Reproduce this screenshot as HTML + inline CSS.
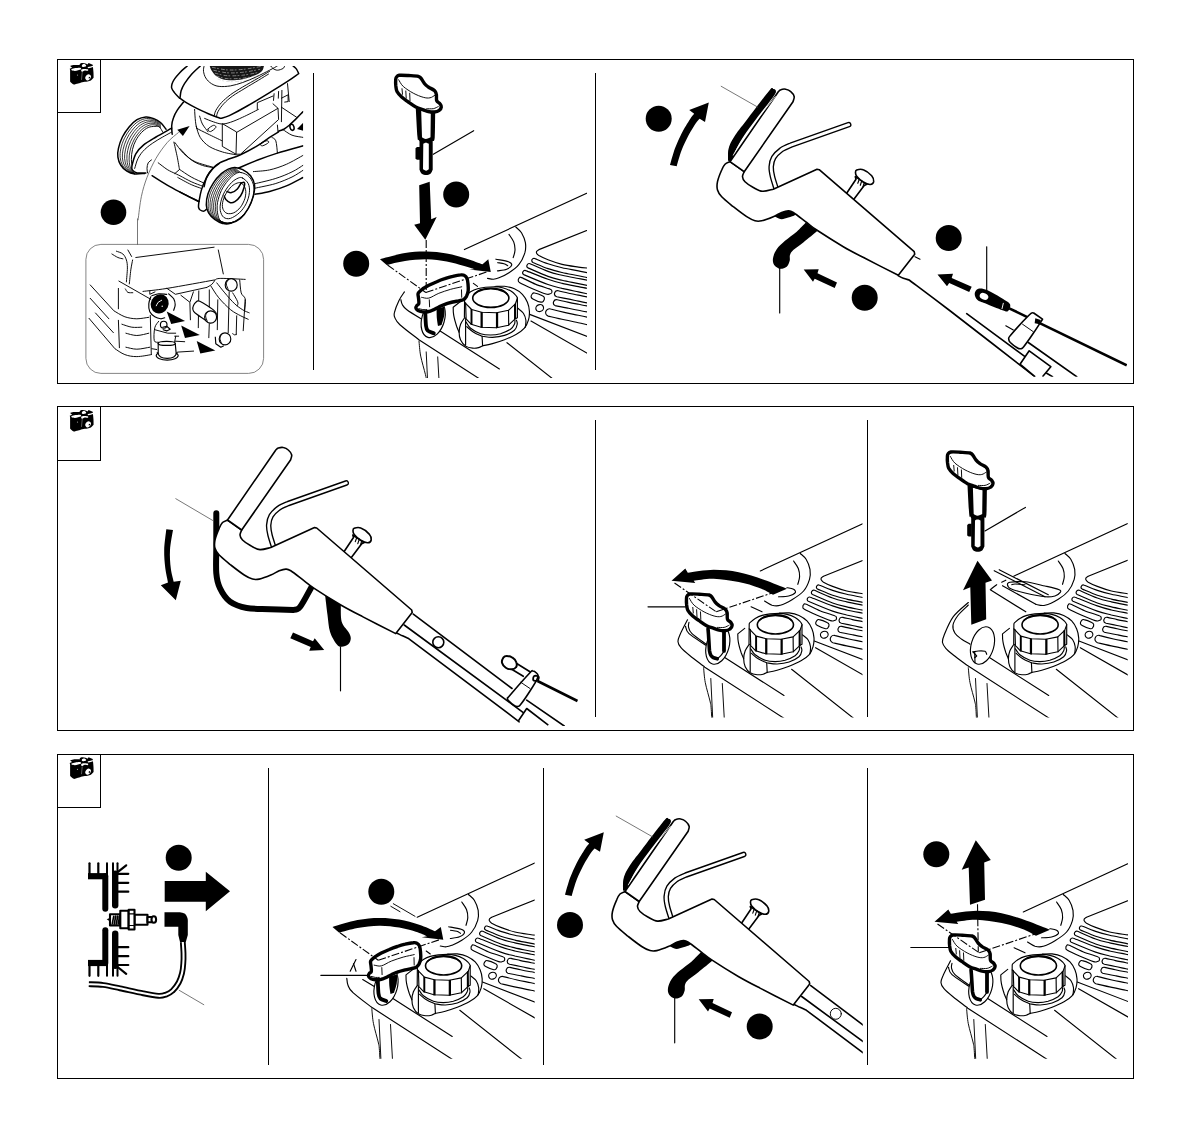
<!DOCTYPE html>
<html lang="en"><head><meta charset="utf-8"><title>Illustrations</title>
<style>
html,body{margin:0;padding:0;background:#fff;}
body{width:1190px;height:1134px;overflow:hidden;font-family:"Liberation Sans",sans-serif;}
svg{display:block;position:absolute;left:0;top:0;}
.l{fill:none;stroke:#000;stroke-width:1.15;stroke-linecap:round;stroke-linejoin:round;}
.m{fill:none;stroke:#000;stroke-width:1.6;stroke-linecap:round;stroke-linejoin:round;}
.t{fill:none;stroke:#000;stroke-width:0.95;stroke-linecap:round;stroke-linejoin:round;}
.h{fill:none;stroke:#000;stroke-width:2.4;stroke-linecap:round;stroke-linejoin:round;}
.k{fill:#000;stroke:none;}
.tr{fill:none;stroke:#000;stroke-width:0.8;}
.mw .l{stroke-width:0.95;}
.mw .m,.mw .wm{stroke-width:1.5;}
.w{fill:#fff;stroke:#000;stroke-width:1.15;stroke-linejoin:round;}
.wm{fill:#fff;stroke:#000;stroke-width:1.6;stroke-linejoin:round;}
.wh{fill:#fff;stroke:#000;stroke-width:3.4;stroke-linejoin:round;}
.g{fill:none;stroke:#555;stroke-width:0.8;stroke-linecap:round;}
.f{fill:none;stroke:#000;stroke-width:1;shape-rendering:crispEdges;}
</style></head><body>
<svg role="img" aria-label="Illustrations" width="1190" height="1134" viewBox="0 0 1190 1134">
<rect x="0" y="0" width="1190" height="1134" fill="#fff"/>
<!-- 00_frames.svg -->
<g class="f">
<rect x="57.5" y="59.5" width="1076" height="324"/>
<rect x="57.5" y="406.5" width="1076" height="324"/>
<rect x="57.5" y="754.5" width="1076" height="324"/>
<path d="M100.5 59.5V112.5H57.5 M100.5 406.5V460.5H57.5 M100.5 754.5V807.5H57.5"/>
<path d="M313.5 73V370 M595.5 73V370 M595.5 420V717 M867.5 420V717 M268.5 768V1065 M543.5 768V1065 M867.5 768V1065"/>
</g>

<!-- 05_camera.svg -->
<path class="k" d="M70.1 70.1L70.1 81.5C70.4 81.9 71.4 83 72.1 83.5C72.8 84.1 73.8 84.4 74.1 84.6C74.8 84.4 76.8 83.9 78.1 83.5C79.5 83.2 80.6 82.5 82.2 82.2C83.7 81.9 86.1 81.8 87.5 81.5C89 81.2 89.9 81.1 90.9 80.5C91.9 79.9 93.1 78.3 93.6 77.8C93.6 76.8 93.6 73.6 93.4 71.4C93.3 69.3 92.8 65.8 92.7 64.7L88.6 63L87.5 64.4C87.2 64.2 86.3 63.6 85.5 63.4C84.7 63.1 83.7 62.9 82.8 62.9C82 62.9 81 63 80.5 63.4C79.9 63.7 79.6 64.8 79.5 65.1C78.5 65.1 75 64.9 73.4 65.1C71.9 65.2 70.6 65.9 70.1 66.1L72.1 67.7L69.7 68.8L70.1 70.1Z"/>
<path class="k" d="M71.7 69.1C72.4 68.7 74 68.3 75.4 68.1C76.8 67.8 79.2 67.5 80.2 67.7C81.1 67.9 81.3 68.8 81 69.3C80.7 69.7 79.2 70 78.1 70.3C77.1 70.5 75.8 70.9 74.8 70.9C73.7 70.9 72.3 70.6 71.7 70.3C71.2 70 71.1 69.5 71.7 69.1Z" style="fill:#fff"/>
<path class="k" d="M82.2 64.7C82.5 64.3 83.5 64 84.2 64.1C84.8 64.1 85.8 64.8 86 65.2C86.3 65.6 86.2 66.1 85.5 66.4C84.9 66.7 82.7 67.1 82.2 66.8C81.6 66.5 81.8 65.2 82.2 64.7Z" style="fill:#fff"/>
<path class="k" d="M88.1 67C88.8 66.6 92.3 65.9 93.1 65.9C93.9 65.9 93.8 66.6 93.1 67C92.3 67.4 89.4 68.2 88.6 68.2C87.7 68.2 87.3 67.4 88.1 67Z" style="fill:#fff"/>
<path class="k" d="M81.3 69.6C81.7 69.1 82.8 69 83.8 68.9C84.9 68.9 87 69 87.7 69.3C88.4 69.6 88.4 70.6 87.9 70.8C87.4 71 85.9 70.3 84.9 70.5C83.8 70.7 82.4 71.9 81.8 71.8C81.2 71.6 81 70.1 81.3 69.6Z" style="fill:#fff"/>
<ellipse class="k" cx="88.1" cy="77.3" rx="2.5" ry="3.2" transform="rotate(35 88.1 77.3)" style="fill:#fff"/>
<ellipse class="k" cx="89.4" cy="77.7" rx="0.7" ry="0.9" transform="rotate(35 89.4 77.7)"/>
<path class="t" d="M82.2 72.5L81.5 79.5" style="stroke:#bbb;stroke-width:0.5"/>
<ellipse class="k" cx="77.5" cy="75.1" rx="0.6" ry="0.7" style="fill:#999"/>
<path class="k" d="M70.1 417.1L70.1 428.5C70.4 428.9 71.4 430 72.1 430.5C72.8 431.1 73.8 431.4 74.1 431.6C74.8 431.4 76.8 430.9 78.1 430.5C79.5 430.2 80.6 429.5 82.2 429.2C83.7 428.9 86.1 428.8 87.5 428.5C89 428.2 89.9 428.1 90.9 427.5C91.9 426.9 93.1 425.3 93.6 424.8C93.6 423.8 93.6 420.6 93.4 418.4C93.3 416.3 92.8 412.8 92.7 411.7L88.6 410L87.5 411.4C87.2 411.2 86.3 410.6 85.5 410.4C84.7 410.1 83.7 409.9 82.8 409.9C82 409.9 81 410 80.5 410.4C79.9 410.7 79.6 411.8 79.5 412.1C78.5 412.1 75 411.9 73.4 412.1C71.9 412.2 70.6 412.9 70.1 413.1L72.1 414.7L69.7 415.8L70.1 417.1Z"/>
<path class="k" d="M71.7 416.1C72.4 415.7 74 415.3 75.4 415.1C76.8 414.8 79.2 414.5 80.2 414.7C81.1 414.9 81.3 415.8 81 416.3C80.7 416.7 79.2 417 78.1 417.3C77.1 417.5 75.8 417.9 74.8 417.9C73.7 417.9 72.3 417.6 71.7 417.3C71.2 417 71.1 416.5 71.7 416.1Z" style="fill:#fff"/>
<path class="k" d="M82.2 411.7C82.5 411.3 83.5 411 84.2 411.1C84.8 411.1 85.8 411.8 86 412.2C86.3 412.6 86.2 413.1 85.5 413.4C84.9 413.7 82.7 414.1 82.2 413.8C81.6 413.5 81.8 412.2 82.2 411.7Z" style="fill:#fff"/>
<path class="k" d="M88.1 414C88.8 413.6 92.3 412.9 93.1 412.9C93.9 412.9 93.8 413.6 93.1 414C92.3 414.4 89.4 415.2 88.6 415.2C87.7 415.2 87.3 414.4 88.1 414Z" style="fill:#fff"/>
<path class="k" d="M81.3 416.6C81.7 416.1 82.8 416 83.8 415.9C84.9 415.9 87 416 87.7 416.3C88.4 416.6 88.4 417.6 87.9 417.8C87.4 418 85.9 417.3 84.9 417.5C83.8 417.7 82.4 418.9 81.8 418.8C81.2 418.6 81 417.1 81.3 416.6Z" style="fill:#fff"/>
<ellipse class="k" cx="88.1" cy="424.3" rx="2.5" ry="3.2" transform="rotate(35 88.1 424.3)" style="fill:#fff"/>
<ellipse class="k" cx="89.4" cy="424.7" rx="0.7" ry="0.9" transform="rotate(35 89.4 424.7)"/>
<path class="t" d="M82.2 419.5L81.5 426.5" style="stroke:#bbb;stroke-width:0.5"/>
<ellipse class="k" cx="77.5" cy="422.1" rx="0.6" ry="0.7" style="fill:#999"/>
<path class="k" d="M70.1 764.4L70.1 775.8C70.4 776.2 71.4 777.3 72.1 777.8C72.8 778.4 73.8 778.7 74.1 778.9C74.8 778.7 76.8 778.2 78.1 777.8C79.5 777.5 80.6 776.8 82.2 776.5C83.7 776.2 86.1 776.1 87.5 775.8C89 775.5 89.9 775.4 90.9 774.8C91.9 774.2 93.1 772.6 93.6 772.1C93.6 771.1 93.6 767.9 93.4 765.7C93.3 763.6 92.8 760.1 92.7 759L88.6 757.3L87.5 758.7C87.2 758.5 86.3 757.9 85.5 757.7C84.7 757.4 83.7 757.2 82.8 757.2C82 757.2 81 757.3 80.5 757.7C79.9 758 79.6 759.1 79.5 759.4C78.5 759.4 75 759.2 73.4 759.4C71.9 759.5 70.6 760.2 70.1 760.4L72.1 762L69.7 763.1L70.1 764.4Z"/>
<path class="k" d="M71.7 763.4C72.4 763 74 762.6 75.4 762.4C76.8 762.1 79.2 761.8 80.2 762C81.1 762.2 81.3 763.1 81 763.6C80.7 764 79.2 764.3 78.1 764.6C77.1 764.8 75.8 765.2 74.8 765.2C73.7 765.2 72.3 764.9 71.7 764.6C71.2 764.3 71.1 763.8 71.7 763.4Z" style="fill:#fff"/>
<path class="k" d="M82.2 759C82.5 758.6 83.5 758.3 84.2 758.4C84.8 758.4 85.8 759.1 86 759.5C86.3 759.9 86.2 760.4 85.5 760.7C84.9 761 82.7 761.4 82.2 761.1C81.6 760.8 81.8 759.5 82.2 759Z" style="fill:#fff"/>
<path class="k" d="M88.1 761.3C88.8 760.9 92.3 760.2 93.1 760.2C93.9 760.2 93.8 760.9 93.1 761.3C92.3 761.7 89.4 762.5 88.6 762.5C87.7 762.5 87.3 761.7 88.1 761.3Z" style="fill:#fff"/>
<path class="k" d="M81.3 763.9C81.7 763.4 82.8 763.3 83.8 763.2C84.9 763.2 87 763.3 87.7 763.6C88.4 763.9 88.4 764.9 87.9 765.1C87.4 765.3 85.9 764.6 84.9 764.8C83.8 765 82.4 766.2 81.8 766.1C81.2 765.9 81 764.4 81.3 763.9Z" style="fill:#fff"/>
<ellipse class="k" cx="88.1" cy="771.6" rx="2.5" ry="3.2" transform="rotate(35 88.1 771.6)" style="fill:#fff"/>
<ellipse class="k" cx="89.4" cy="772" rx="0.7" ry="0.9" transform="rotate(35 89.4 772)"/>
<path class="t" d="M82.2 766.8L81.5 773.8" style="stroke:#bbb;stroke-width:0.5"/>
<ellipse class="k" cx="77.5" cy="769.4" rx="0.6" ry="0.7" style="fill:#999"/>

<!-- 11.svg -->
<g class="mw"><clipPath id="c11"><rect x="101" y="66" width="202.2" height="179"/></clipPath>
<g clip-path="url(#c11)">
<path class="wm" d="M166.1 129.2C166.1 126.8 162.5 124.3 160.5 122.5C158.4 120.7 156.2 119.5 153.8 118.6C151.3 117.6 148.7 116.7 145.9 116.9C143.1 117.1 139.8 118 137 119.7C134.2 121.4 131.5 124.1 129.1 127C126.7 129.9 124.2 133.5 122.4 137C120.6 140.6 119.2 144.9 118.5 148.2C117.7 151.6 117.5 154.4 117.9 157.2C118.3 160 119.2 162.7 120.7 165C122.2 167.4 124.5 169.7 126.9 171.2C129.2 172.7 131.7 173.6 134.7 174C137.7 174.4 142.7 176.2 144.8 173.4C146.9 170.6 144.4 163.3 147 157.2C149.7 151.1 157.3 141.7 160.5 137C163.6 132.4 166.1 131.6 166.1 129.2Z" style="stroke:none"/>
<path class="m" d="M166.1 129.2C165.1 128.1 162.5 124.3 160.5 122.5C158.4 120.7 156.2 119.5 153.8 118.6C151.3 117.6 148.7 116.7 145.9 116.9C143.1 117.1 139.8 118 137 119.7C134.2 121.4 131.5 124.1 129.1 127C126.7 129.9 124.2 133.5 122.4 137C120.6 140.6 119.2 144.9 118.5 148.2C117.7 151.6 117.5 154.4 117.9 157.2C118.3 160 119.2 162.7 120.7 165C122.2 167.4 124.5 169.7 126.9 171.2C129.2 172.7 131.7 173.6 134.7 174C137.7 174.4 143.1 173.5 144.8 173.4"/>
<path class="tr" d="M160.6 123.5C159.5 122.9 156.4 120.7 154.1 119.9C151.8 119 149.3 118.3 146.7 118.5C144 118.8 140.8 119.8 138.2 121.5C135.5 123.1 133 125.8 130.7 128.5C128.4 131.3 126.1 134.8 124.5 138.2C122.8 141.5 121.5 145.6 120.8 148.8C120.1 152 119.9 154.8 120.2 157.6C120.5 160.3 121.3 163 122.5 165.2C123.8 167.5 125.8 169.6 127.8 171C129.8 172.5 133.6 173.4 134.7 173.9"/>
<path class="tr" d="M160.7 124.5C159.6 124 156.7 121.9 154.5 121.2C152.3 120.4 149.9 119.8 147.4 120.2C144.9 120.5 141.9 121.6 139.4 123.2C136.9 124.9 134.4 127.5 132.3 130.1C130.1 132.8 128 136.1 126.5 139.3C125 142.5 123.8 146.2 123.1 149.4C122.4 152.5 122.2 155.3 122.4 157.9C122.6 160.6 123.3 163.3 124.4 165.4C125.4 167.6 127 169.4 128.7 170.8C130.5 172.2 133.7 173.3 134.7 173.8"/>
<path class="tr" d="M160.8 125.6C159.8 125 157 123.1 154.9 122.5C152.8 121.9 150.5 121.4 148.2 121.8C145.8 122.2 143 123.3 140.6 125C138.2 126.6 135.9 129.2 133.9 131.7C131.9 134.3 130 137.4 128.6 140.4C127.1 143.4 126 146.9 125.4 149.9C124.7 152.9 124.5 155.7 124.6 158.3C124.8 160.9 125.4 163.5 126.2 165.6C127 167.6 128.3 169.3 129.7 170.6C131.1 172 133.9 173.2 134.7 173.7"/>
<path class="tr" d="M160.8 126.6C159.9 126.1 157.2 124.3 155.2 123.8C153.3 123.3 151.1 123 148.9 123.4C146.7 123.9 144.1 125.1 141.8 126.8C139.6 128.4 137.3 130.8 135.5 133.3C133.6 135.8 131.9 138.7 130.6 141.5C129.3 144.4 128.3 147.6 127.7 150.5C127 153.3 126.8 156.1 126.9 158.7C126.9 161.2 127.4 163.8 128 165.8C128.7 167.7 129.5 169.1 130.6 170.4C131.7 171.8 134 173.1 134.7 173.6"/>
<path class="tr" d="M160.9 127.6C160.1 127.2 157.5 125.5 155.6 125.1C153.7 124.7 151.8 124.5 149.7 125.1C147.6 125.7 145.1 126.9 143 128.5C140.9 130.2 138.8 132.5 137.1 134.9C135.3 137.2 133.8 139.9 132.7 142.6C131.5 145.3 130.5 148.3 130 151C129.4 153.8 129.1 156.6 129.1 159.1C129.1 161.6 129.5 164.1 129.9 166C130.3 167.8 130.7 169 131.5 170.3C132.4 171.5 134.2 173 134.7 173.5"/>
<path class="l" d="M162.7 132C162.2 131.2 160.7 127.9 159.4 127C158 126 156.7 126.3 154.9 126.4C153 126.5 150.4 126.5 148.2 127.5C145.9 128.5 143.5 130.4 141.4 132.6C139.4 134.7 137.3 137.6 135.8 140.4C134.3 143.2 133.2 146.2 132.5 149.4C131.7 152.5 131.4 156.3 131.4 159.4C131.4 162.6 132.3 166.9 132.5 168.4"/>
<path class="wm" d="M171.7 128.1C169.1 129.6 160.7 134.2 156 137C151.3 139.8 147 142.1 143.7 144.9C140.3 147.7 137.8 150.3 135.8 153.8C133.9 157.4 132.5 163.4 131.9 166.2C131.4 168.9 131.6 169 132.5 170.1C133.3 171.2 134.7 172.4 137 172.9C139.2 173.3 144.4 172.9 145.9 172.9L171.7 168.4L171.7 128.1Z" style="stroke:none"/>
<path class="m" d="M171.7 128.1C169.1 129.6 160.7 134.2 156 137C151.3 139.8 147 142.1 143.7 144.9C140.3 147.7 137.8 150.3 135.8 153.8C133.9 157.4 132.5 163.4 131.9 166.2C131.4 168.9 131.6 169 132.5 170.1C133.3 171.2 134.7 172.4 137 172.9C139.2 173.3 144.4 172.9 145.9 172.9"/>
<path class="l" d="M171.7 132C169.1 133.5 160.5 138.1 156 141C151.5 143.8 147.8 146.5 144.8 149.4C141.8 152.2 139.8 155.1 138.1 158.3C136.4 161.5 135.3 166.7 134.7 168.4"/>
<path class="t" d="M151.5 160C151 160.5 148.9 161.4 148.2 162.8C147.4 164.2 147.1 166.7 147 168.4C146.9 170.1 147.5 172.1 147.6 172.9"/>
<path class="l" d="M158.2 162.8C159.7 163.9 164.4 167.7 167.2 169.5C170 171.3 173.7 172.8 175 173.4"/>
<path class="m" d="M152.1 175.7C154.6 177.3 161.9 182.1 167.2 185.2C172.5 188.3 178.7 191.4 184 194.2C189.3 196.9 196.6 200.2 199.1 201.4"/>
<path class="l" d="M173.9 142.1C174.5 144.6 176.3 152.6 177.3 157.2C178.2 161.8 179.1 167.5 179.5 169.5L175 173.4"/>
<path class="l" d="M175 142.6C176.5 144.5 180.6 150.7 184 153.8C187.4 157 190.3 159.4 195.2 161.7C200 163.9 210.1 166.3 213.1 167.3"/>
<path class="m" d="M183.4 102.3C182.4 103.6 179 107.5 177.3 110.2C175.6 112.8 174.3 115.4 173.4 118C172.4 120.6 171.9 123.1 171.7 125.8C171.5 128.5 172.1 132.8 172.2 134.2"/>
<path class="g" d="M138.1 219.9C138.6 216 139.9 203.5 141.4 196.4C142.9 189.3 144.6 183.7 147 177.4C149.5 171 152.6 164.1 156 158.3C159.4 152.5 163.5 146.9 167.2 142.6C170.9 138.3 176.5 134.2 178.4 132.6"/>
<path class="k" d="M177.3 129.8L189.6 126.1L182.9 135.9Z"/>
<path class="k" d="M209.7 65.9C210 66.7 210.3 68.6 211.4 70.2C212.4 71.8 214 74.3 215.8 75.8C217.7 77.3 219.9 78.4 222.6 79.2C225.2 79.9 228.2 80.3 231.5 80.3C234.9 80.3 239 79.9 242.7 79.2C246.4 78.4 250.7 77.1 253.9 75.8C257.1 74.5 260.1 73 261.8 71.3C263.4 69.7 263.6 66.8 264 65.9L209.7 65.9Z" style="fill:#161616"/>
<path class="t" d="M212.5 67.4C214.9 67.8 222 69.5 227 69.9C232.1 70.2 237.1 70 242.7 69.4C248.3 68.9 257.6 67 260.6 66.5" style="stroke:#ccc;stroke-width:0.6;stroke-dasharray:3 2 1 3"/>
<path class="t" d="M213.8 70.3C216 70.7 222.2 72.4 227 72.8C231.9 73.1 237.3 72.9 242.7 72.3C248.2 71.8 256.9 69.9 259.7 69.4" style="stroke:#ccc;stroke-width:0.6;stroke-dasharray:3 2 1 3"/>
<path class="t" d="M215.2 73.2C217.1 73.6 222.4 75.4 227 75.7C231.6 76 237.4 75.8 242.7 75.2C248 74.7 256.2 72.8 258.8 72.3" style="stroke:#ccc;stroke-width:0.6;stroke-dasharray:3 2 1 3"/>
<path class="t" d="M216.5 76.1C218.3 76.5 222.7 78.3 227 78.6C231.4 78.9 237.6 78.7 242.7 78.2C247.9 77.6 255.4 75.7 257.9 75.2" style="stroke:#ccc;stroke-width:0.6;stroke-dasharray:3 2 1 3"/>
<path class="t" d="M217.9 79C219.4 79.5 222.9 81.2 227 81.5C231.2 81.8 237.7 81.6 242.7 81.1C247.7 80.5 254.7 78.6 257.1 78.2" style="stroke:#ccc;stroke-width:0.6;stroke-dasharray:3 2 1 3"/>
<path class="l" d="M204.1 65.9C204 66.8 203.2 69.3 203.5 71.3C203.8 73.3 204.5 76 205.8 78C207.1 80.1 209.1 82.2 211.4 83.6C213.6 85 216 86.1 219.2 86.4C222.4 86.8 226.5 86.5 230.4 85.9C234.3 85.2 238.4 84 242.7 82.5C247 81 251.7 79 256.2 76.9C260.6 74.9 266 72 269.6 70.2C273.1 68.4 276.1 66.7 277.4 65.9"/>
<path class="t" d="M270.7 65.9C271.1 66.4 271.8 67.8 273 68.5C274.1 69.2 275.8 70.2 277.4 70.2C279.1 70.2 281.8 69.2 283 68.5C284.2 67.8 284.4 66.4 284.7 65.9"/>
<path class="m" d="M187.3 65.9C186.1 67 182.1 70.2 180 72.4C177.9 74.6 175.7 77.2 174.4 79.2C173.1 81.1 172.5 82.5 172 84C171.6 85.5 171.3 86.7 171.7 88.1C172.1 89.6 173.1 90.9 174.4 92.6C175.7 94.3 178.7 97.3 179.6 98.2"/>
<path class="m" d="M200.3 65.9C198.8 67.4 193.8 71.7 191.2 74.7C188.6 77.6 186.2 81 184.5 83.6C182.8 86.3 181.9 88.3 181.1 90.7C180.4 93.1 180.2 96.9 180 98.2C181.1 99 183.9 101.2 186.7 102.9C189.5 104.6 192.7 106.3 196.8 108.3C200.9 110.3 207.3 113.3 211.4 115C215.4 116.7 219.3 117.8 220.9 118.4C222.3 117.9 224.9 117.6 229.3 115.6C233.7 113.5 240.5 109.9 247.2 106C253.9 102.2 262.9 96.7 269.6 92.6C276.3 88.5 282.7 84.6 287.5 81.4C292.4 78.2 296.8 74.9 298.7 73.6C298.3 72.8 297.4 70.3 296.5 69.1C295.5 67.8 293.7 66.5 293.1 65.9"/>
<path class="l" d="M214.2 116.1C214.4 115.2 214.6 112.8 215.8 110.5C217.1 108.3 219 105.3 221.4 102.7C223.9 100.1 226.9 97.5 230.4 94.8C233.9 92.2 238 89.8 242.7 87C247.4 84.2 253.9 80.7 258.4 78C262.9 75.4 267.7 72.4 269.6 71.3"/>
<path class="t" d="M216.4 116.9C216.7 116 216.9 113.6 218.1 111.4C219.3 109.2 221.3 106.4 223.7 103.8C226.1 101.2 229.1 98.5 232.6 96C236.2 93.4 240.7 91 245 88.3C249.2 85.7 254.5 82.6 258.4 80.3C262.3 77.9 266.8 75.1 268.5 74.1"/>
<path class="t" d="M194.6 109.4C194.7 111.5 195.1 118.5 195.5 121.7C195.8 124.9 196.6 127.3 196.8 128.4"/>
<path class="l" d="M196.8 128.4C198.7 129.4 203.8 132 208 134C212.2 136.1 219.7 139.6 222 140.8"/>
<path class="l" d="M196.2 126.2C196.9 128.1 198 134 200.2 137.4C202.3 140.8 205.4 143.9 209.1 146.4C212.9 148.8 218.1 150.6 222.6 152C227 153.4 233.8 154.3 236 154.8"/>
<path class="l" d="M199.6 116.1C200.1 117.4 201 121.3 202.4 124C203.8 126.6 207.1 130.5 208 131.8"/>
<path class="l" d="M208 129C208.5 128 212.3 125.5 213.6 125.3C214.9 125.1 216.4 126.5 215.8 127.5C215.3 128.6 211.8 131.3 210.5 131.6C209.2 131.8 207.5 130 208 129Z"/>
<path class="l" d="M204.6 118.4C206.1 119 210.7 121 213.6 121.9C216.5 122.9 219.2 123.9 222 124C224.8 124 226.9 123.4 230.4 122.3C233.8 121.2 238 119.4 242.7 117.2C247.4 115.1 255.8 110.7 258.4 109.4"/>
<path class="l" d="M222.3 124L222.3 146.4L236 154.2L236.6 132.4Z"/>
<path class="l" d="M236.6 132.4L278 108.3L278.6 119.5L240.5 154.2L236 154.2"/>
<path class="l" d="M257.3 109.4L257.3 102.7L273 96"/>
<path class="l" d="M273 103.8L278 108.3"/>
<path class="l" d="M281.9 90.4L281.4 121.7"/>
<path class="l" d="M277.4 125.1L278 131.8"/>
<path class="t" d="M287.5 83.6L289.2 101.6"/>
<path class="l" d="M274.1 93.7L273.5 100.4"/>
<path class="l" d="M278.6 91.5L278.3 98.2"/>
<path class="l" d="M281.4 98.2L288.1 94.8L288.1 101.6L284.7 102.1"/>
<path class="t" d="M281.4 107.2L296.5 117.2"/>
<path class="m" d="M278.6 131.2C279.5 130.9 282.4 130 284.2 129C285.9 128 287.1 127.1 289.2 125.3C291.2 123.5 294.1 120.6 296.5 118.4C298.8 116.1 302.1 112.8 303.2 111.6"/>
<ellipse class="m" cx="292" cy="127.3" rx="2" ry="3.1" transform="rotate(-15 292 127.3)"/>
<path class="k" d="M297.0 129.0L303.2 122.8L303.2 130.7Z"/>
<path class="l" d="M283 129.6C284.5 130.5 288.6 133.8 292 135.2C295.4 136.5 301.3 137 303.2 137.4"/>
<path class="m" d="M204.1 186.7C204.5 185 205.5 179.6 206.9 176.6C208.3 173.6 210.4 171 212.5 168.8C214.5 166.5 216.8 164.6 219.2 163.2C221.6 161.7 223.5 161.2 227 159.8C230.6 158.4 235.2 157.2 240.5 154.8C245.7 152.3 253.5 148.1 258.4 145.2C263.2 142.3 266.2 139.6 269.6 137.4C273 135.2 277.1 132.7 278.6 131.8"/>
<path class="m" d="M238.2 168.2C241.6 166.8 251.9 162.3 258.4 159.8C264.9 157.3 270 155.4 277.4 153.1C284.9 150.7 298.9 147 303.2 145.8"/>
<path class="l" d="M271.8 137.4C272.5 138 274.8 138.1 275.8 140.8C276.7 143.4 277.2 151 277.4 153.1"/>
<path class="l" d="M260.1 143.8C260.7 142.9 264.8 141 266.2 140.8C267.7 140.5 269.3 141.6 268.7 142.4C268.1 143.3 264 145.6 262.5 145.8C261.1 146 259.5 144.6 260.1 143.8Z"/>
<path class="l" d="M253.4 171.6C256.1 171.3 264.1 171.1 269.6 169.9C275.1 168.7 280.8 166.7 286.4 164.3C292 161.8 300.4 156.8 303.2 155.3"/>
<path class="t" d="M180 148.6C181.9 150.5 187.5 157 191.2 159.8C194.9 162.6 198.7 164.1 202.4 165.4C206.1 166.7 211.7 167.3 213.6 167.6"/>
<path class="l" d="M255 183.7C258.4 182.8 269 180.6 275.2 178.6C281.4 176.7 287.3 174.2 292 171.9C296.7 169.7 301.3 166.3 303.2 165.2"/>
<path class="l" d="M255 188.2C258.4 187.4 269 185.5 275.2 183.7C281.4 181.8 287.3 179.2 292 177C296.7 174.7 301.3 171.4 303.2 170.2"/>
<path class="m" d="M255 194.3C257.5 193.8 264.4 192.9 269.6 191.5C274.8 190.1 280.8 188.3 286.4 185.9C292 183.6 300.4 178.9 303.2 177.5"/>
<path class="l" d="M179.4 169.3C181.4 170.6 187.1 174.7 191.2 177C195.3 179.3 201.9 182.1 204.1 183.1"/>
<path class="t" d="M175 173.4C175.8 173.8 177.3 174.5 180 175.8C182.7 177.2 187.5 179.9 191.2 181.7C194.9 183.4 200.5 185.4 202.4 186.1"/>
<path class="t" d="M177.8 177.5C180 178.7 187.3 182.8 191.2 184.6C195.1 186.4 199.6 187.7 201.3 188.4"/>
<path class="m" d="M180 192.1L198.5 201.6"/>
<path class="m" d="M219.2 163.5C218.1 164.5 214.7 166.5 212.5 169.1C210.2 171.7 207.6 175.7 205.8 179.2C203.9 182.7 202.4 186.7 201.3 190.4C200.2 194.1 199.5 198.8 199 201.6C198.6 204.4 198.3 205.8 198.5 207.2C198.7 208.6 199.2 209.3 200.2 210C201.1 210.6 203.1 211.2 204.1 211.1C205.1 211 205.9 209.7 206.3 209.4"/>
<path class="wm" d="M234.9 167.4C237.3 167.5 240.1 168.3 242.7 169.7C245.3 171.1 248.6 173.3 250.6 175.8C252.5 178.4 254 181.4 254.5 184.8C254.9 188.2 254.4 192.1 253.4 196C252.3 199.9 250.5 204.6 248.3 208.3C246.2 212 243.5 215.9 240.5 218.4C237.5 220.9 233.4 222.6 230.4 223.4C227.4 224.3 225.2 224.1 222.6 223.4C219.9 222.8 217.1 221.3 214.7 219.5C212.4 217.7 210 215.2 208.6 212.8C207.2 210.4 206.4 208.1 206.3 205C206.2 201.8 206.8 197.5 208 193.8C209.2 190 211.4 185.9 213.6 182.6C215.8 179.2 219 175.8 221.4 173.6C223.9 171.4 225.9 170.1 228.2 169.1C230.4 168.1 232.5 167.3 234.9 167.4Z"/>
<path class="tr" d="M235.9 168.3C234.8 168.6 231.5 168.9 229.3 170C227.1 171 225 172.4 222.6 174.7C220.2 177 217.1 180.4 214.9 183.9C212.7 187.3 210.7 191.5 209.6 195.2C208.5 199 208 203.1 208.2 206.3C208.3 209.4 209.1 211.8 210.5 214.1C211.9 216.4 214.5 218.6 216.8 220.2C219 221.7 221.6 222.9 224.1 223.4C226.5 223.9 230.1 223.1 231.3 223"/>
<path class="tr" d="M236.9 169.1C235.8 169.4 232.6 169.7 230.4 170.8C228.2 171.9 226 173.4 223.7 175.8C221.3 178.2 218.3 181.7 216.2 185.2C214.1 188.7 212.2 193 211.2 196.7C210.1 200.5 209.8 204.5 210.1 207.6C210.3 210.7 211 213.2 212.5 215.4C213.9 217.6 216.6 219.5 218.8 220.8C221 222.1 223.3 223 225.5 223.3C227.8 223.6 231.1 222.7 232.3 222.6"/>
<path class="tr" d="M238 170C236.9 170.2 233.7 170.5 231.5 171.6C229.3 172.8 227.1 174.5 224.8 177C222.5 179.4 219.5 182.9 217.5 186.5C215.5 190 213.7 194.5 212.8 198.2C211.8 202 211.6 205.8 211.9 208.9C212.2 212 212.9 214.6 214.4 216.7C215.9 218.8 218.8 220.4 220.9 221.5C223 222.6 225 223.2 227 223.3C229.1 223.4 232.2 222.3 233.2 222.1"/>
<path class="tr" d="M239 170.8C237.9 171.1 234.8 171.3 232.6 172.5C230.5 173.7 228.2 175.5 225.9 178.1C223.6 180.6 220.8 184.2 218.8 187.8C216.9 191.4 215.2 196 214.3 199.7C213.5 203.5 213.4 207.1 213.8 210.2C214.1 213.2 214.9 216 216.4 218C217.9 220 220.9 221.3 222.9 222.1C225 223 226.7 223.3 228.5 223.2C230.4 223.1 233.2 222 234.1 221.7"/>
<path class="tr" d="M240 171.6C239 171.9 235.9 172.1 233.8 173.3C231.6 174.6 229.3 176.6 227 179.2C224.8 181.8 222 185.4 220.1 189.1C218.3 192.8 216.7 197.5 215.9 201.2C215.2 205 215.2 208.5 215.7 211.5C216.1 214.5 216.8 217.4 218.4 219.3C219.9 221.2 223 222.1 225 222.8C226.9 223.4 228.3 223.4 230 223.2C231.7 222.9 234.2 221.6 235.1 221.3"/>
<path class="l" d="M241 172.5C243.5 172.9 247.3 174.5 249.4 177C251.6 179.4 253.4 183.3 253.9 187C254.4 190.8 253.5 195.2 252.2 199.4C250.9 203.5 248.8 208.1 246.1 211.7C243.4 215.2 239.2 218.7 236 220.6C232.8 222.6 229.7 223.4 227 223.4C224.4 223.4 221.9 222.4 220.3 220.6C218.7 218.9 218 215.8 217.5 212.8C217.1 209.8 216.9 206.4 217.5 202.7C218.2 199 219.7 194.1 221.4 190.4C223.2 186.7 225.9 183 228.2 180.3C230.4 177.6 232.7 175.5 234.9 174.2C237 172.9 238.6 172 241 172.5Z"/>
<path class="l" d="M242.7 178.1C244.4 179 247.2 181.3 248.3 183.7C249.4 186.1 249.8 189.3 249.4 192.6C249.1 196 247.8 200.5 246.1 203.8C244.4 207.2 242 210.4 239.4 212.8C236.7 215.2 233 217.6 230.4 218.4C227.8 219.1 225.4 218.6 223.7 217.3C222 216 220.8 213.2 220.3 210.6C219.9 207.9 220.1 204.8 220.9 201.6C221.6 198.4 223 194.7 224.8 191.5C226.6 188.3 229.3 184.8 231.5 182.6C233.8 180.3 236.4 178.8 238.2 178.1C240.1 177.3 241 177.1 242.7 178.1Z"/>
<path class="l" d="M241.6 183.1C243 184.1 245 186.8 245.5 189.3C246.1 191.8 245.8 195.2 245 198.2C244.1 201.2 242.3 204.8 240.5 207.2C238.6 209.6 236 211.8 233.8 212.8C231.5 213.8 228.8 213.9 227 213.4C225.3 212.8 223.9 211.2 223.1 209.4C222.4 207.7 222.1 205.3 222.6 202.7C223 200.1 224.4 196.5 225.9 193.8C227.4 191.1 229.7 188.3 231.5 186.5C233.4 184.7 235.4 183.7 237.1 183.1C238.8 182.6 240.2 182.1 241.6 183.1Z"/>
<path class="m" d="M227 191.5C227.8 191.7 229.8 193 231.5 192.6C233.2 192.3 235.5 190.9 237.1 189.3C238.7 187.7 240.4 184.1 241 183.1"/>
<path class="m" d="M241 183.1C241.6 183 243.9 181.7 244.4 182.6C244.9 183.4 244.5 185.9 243.8 188.2C243.2 190.4 242 193.8 240.5 196C239 198.2 236.6 200.5 234.9 201.6C233.2 202.7 231.9 203.1 230.4 202.7C228.9 202.3 226.9 200.5 225.9 199.4C224.9 198.2 224.5 196.6 224.2 196"/>
</g>
</g>
<rect x="85.9" y="244.4" width="177.7" height="129.0" rx="15" ry="15" fill="#fff" stroke="#666" stroke-width="0.8"/>
<path class="g" d="M137.5 218.8L137.5 244.4"/>
<path class="t" d="M111.9 254C112.9 254.6 116.1 256.7 117.9 257.5C119.7 258.3 122 258.6 122.9 258.8"/>
<path class="t" d="M116.4 251.2C117.5 251.7 121.2 252.5 122.9 254C124.5 255.4 125.6 257.6 126.4 260C127.1 262.3 127.4 264.3 127.4 267.9C127.4 271.6 126.5 279.6 126.4 281.9"/>
<path class="t" d="M127.9 250L131.6 256.5"/>
<path class="t" d="M132.6 260C132.3 261.6 131.4 265.9 130.8 269.9C130.3 273.9 129.6 281.6 129.3 283.9"/>
<path class="t" d="M135.8 257.5L214.1 247.2"/>
<path class="t" d="M118.9 281.1L150.8 299.3"/>
<path class="t" d="M118.4 288.4L118.4 308.8"/>
<path class="t" d="M125.4 288.9C125.8 289.4 126.6 291.7 127.9 292.4C129.1 293 132 292.6 132.8 292.7"/>
<path class="t" d="M90.2 284.9L113.9 310.8C115.7 311.8 121 315.4 124.9 316.8C128.7 318.1 132.8 318.7 136.8 318.8C140.8 318.8 146.8 317.5 148.8 317.3"/>
<path class="t" d="M90.2 298.3L108.9 318.8"/>
<path class="t" d="M95.5 313L113.4 332.7"/>
<path class="t" d="M89 318.3L114.9 348.7C116.6 349.7 121.2 353.3 124.9 354.6C128.5 356 132.4 356.6 136.8 356.6C141.2 356.6 148.9 355 151.3 354.6"/>
<path class="t" d="M118.4 320.3L119.4 347.7"/>
<path class="t" d="M150.3 315.3L151.3 354.6"/>
<path class="t" d="M121.9 324.2C123.5 324.7 128.5 326.7 131.8 327.2C135.2 327.7 140.1 327.2 141.8 327.2"/>
<path class="t" d="M125.9 333.2C127.7 333.6 133 335.5 136.8 335.5C140.6 335.5 146.8 333.6 148.8 333.2"/>
<path class="t" d="M125.9 347.2C127.7 347.5 132.8 349.2 136.8 349.2C140.8 349.2 147.6 347.5 149.8 347.2"/>
<path class="l" d="M151.8 295.8C152.9 295.5 156.3 294.1 158.7 293.8C161.2 293.6 165.4 294.3 166.7 294.3"/>
<path class="l" d="M150.8 296.8C150.4 298 148.9 301.3 148.8 303.8C148.6 306.3 148.8 309.6 149.8 311.8C150.8 313.9 152.9 315.6 154.8 316.8C156.6 317.9 159.1 318.6 160.7 318.8C162.4 318.9 164.1 317.9 164.7 317.8"/>
<path class="l" d="M168.7 293.8C169.5 294.7 172.6 297 173.7 298.8C174.8 300.7 175.2 302.9 175.2 304.8C175.2 306.7 173.9 309.4 173.7 310.3"/>
<ellipse class="k" cx="159.7" cy="303.8" rx="8.8" ry="9.8" transform="rotate(25 159.7 303.8)"/>
<path class="t" d="M156.3 305.8C156.6 305.2 157.3 303.2 158.2 302.3C159.2 301.4 161.2 300.7 161.7 300.3" style="stroke:#fff"/>
<circle class="k" cx="162.2" cy="306.3" r="0.7" style="fill:#fff"/>
<path class="k" d="M166.7 311.6L185.1 321.0L171.2 323.9Z"/>
<path class="k" d="M181.2 325.5L199.8 334.9L185.0 337.9Z"/>
<path class="t" d="M158.7 321.3C158.1 322.3 155.5 324.5 154.8 327.7C154 331 153.6 338.3 154.3 340.7C154.9 343.1 158 341.9 158.7 342.2"/>
<path class="t" d="M154.8 329.7L167.7 333.2L175.7 333.2"/>
<path class="t" d="M174.7 336.2L178.7 336.2"/>
<path class="t" d="M175.7 336.2L174.7 341.7"/>
<ellipse class="l" cx="163.7" cy="324.7" rx="3.3" ry="3.5"/>
<path class="l" d="M162.7 327.2L166.7 326.2L170.2 329.2L166.7 330.9L163.2 329.7"/>
<ellipse class="w" cx="167.2" cy="355.6" rx="11" ry="4.5"/>
<path class="w" d="M158.2 343.2L158.2 353.6L176.2 353.6L175.2 343.2Z" style="stroke:none"/>
<path class="l" d="M158.2 343.2L158.2 353.6"/>
<path class="l" d="M175.2 343.2L176.2 353.6"/>
<path class="l" d="M157.2 352.6C157.8 353.4 159.1 356.2 160.7 357.1C162.4 358.1 165.1 358.4 167.2 358.4C169.4 358.4 172 358.1 173.7 357.1C175.4 356.2 176.6 353.4 177.2 352.6"/>
<ellipse class="w" cx="166.7" cy="343.4" rx="8.5" ry="2"/>
<path class="t" d="M175.2 341.2L184.7 341.7"/>
<path class="t" d="M177.7 352.1L193.6 351.1"/>
<path class="t" d="M151.8 348.7L156.7 349.5"/>
<path class="t" d="M143 291.4C147 290.9 155 290.3 167 288.4C178.9 286.5 206.8 281.3 214.8 279.9C215.8 279.6 215.7 278.5 220.8 278.4C225.8 278.3 241.1 279.2 245.2 279.4"/>
<path class="t" d="M167 288.4L175.4 294.3L206.8 287.4"/>
<path class="t" d="M206.8 287.4C207.6 286.9 210.5 285.5 211.8 284.4C213.1 283.2 214.3 281.1 214.8 280.4"/>
<path class="t" d="M149.8 290.9L149.8 294.3L155 291.9"/>
<path class="t" d="M218.3 250L223.3 273.9"/>
<path class="t" d="M180.9 295.3L189.9 302.3L193.4 291.9"/>
<path class="t" d="M189.9 302.8L190.4 319.8"/>
<path class="t" d="M198.8 290.9L198.3 327.7"/>
<path class="t" d="M209.3 289.9L209.3 307.8"/>
<path class="t" d="M209.3 323.7L208.8 337.7"/>
<path class="t" d="M217.8 299.8L217.3 329.7"/>
<path class="t" d="M229.2 291.9L228.2 332.7"/>
<path class="t" d="M236.7 315.8L236.2 334.7"/>
<path class="t" d="M245.2 299.8L243.2 330.7"/>
<path class="t" d="M210.8 285.9C212.1 287.9 215.5 293.8 218.8 297.8C222.1 301.8 227.1 306.8 230.7 309.8C234.4 312.8 237.8 314.2 240.7 315.8C243.6 317.3 246.9 318.7 248.2 319.3"/>
<path class="t" d="M216.8 282.9C218.1 284.5 221.8 289.4 224.8 292.9C227.7 296.3 231.7 301 234.7 303.8C237.7 306.6 240.3 308.3 242.7 309.8C245.1 311.3 248.1 312.3 249.2 312.8"/>
<path class="t" d="M239.7 279.9C240 282.1 240.3 289.7 241.2 292.9C242.1 296 244.6 296 245.2 298.8C245.8 301.7 244.8 308 244.7 309.8"/>
<path class="t" d="M232.7 292.9C233.6 294.3 237 299.7 237.7 301.8C238.5 304 237.3 305.1 237.2 305.8"/>
<ellipse class="w" cx="231.2" cy="284.9" rx="6" ry="6.2"/>
<path class="t" d="M228.2 279.9C227.9 280.6 226.3 282.3 226.3 283.9C226.3 285.5 227.9 288.4 228.2 289.4"/>
<path class="w" d="M193.4 305.8C193.9 304.6 194.8 303.1 195.9 302.3C196.9 301.6 196.7 299.8 199.8 301.3C203 302.8 212.1 308.5 214.8 311.3C217.5 314 216.9 315.9 216.3 317.8C215.6 319.7 212.7 322.4 210.8 322.7C208.9 323.1 207.5 321.4 204.8 319.8C202.2 318.1 196.9 314.5 194.9 312.8C192.9 311 193.1 310.5 192.9 309.3C192.6 308.1 192.9 307 193.4 305.8Z"/>
<ellipse class="w" cx="210.6" cy="317" rx="6" ry="6.2"/>
<path class="t" d="M207.8 311.8C207.4 312.4 205.7 314.2 205.6 315.8C205.5 317.3 207 320.3 207.3 321.3"/>
<path class="w" d="M215.3 336.7L215.8 343.7L220.8 347.2L223.8 345.7" style="fill:none"/>
<ellipse class="w" cx="225" cy="338.9" rx="5.8" ry="6"/>
<path class="t" d="M222 333.9C221.6 334.6 220 336.6 220 338.2C219.9 339.8 221.3 342.8 221.6 343.7"/>
<path class="t" d="M232.7 333.7C233.1 333.9 234.1 334.8 234.7 334.9C235.3 335 236 334.3 236.2 334.2"/>
<path class="k" d="M196.7 340.9L215.3 350.4L200.3 353.6Z"/>
<circle class="k" cx="113.5" cy="212.2" r="12.8"/>

<!-- 12.svg -->
<clipPath id="c12"><rect x="315" y="73" width="272" height="305"/></clipPath>
<g clip-path="url(#c12)">
<path class="l" d="M464.4 249.6L604 185.2"/>
<path class="l" d="M404.4 291.9C403.4 293.4 400.5 297.3 398.9 300.7C397.2 304.2 395 309.9 394.4 312.7C393.7 315.6 393.9 315.7 394.9 317.7C395.8 319.7 395.9 321.1 399.9 324.7C403.9 328.4 415.7 337.2 418.9 339.7L523.4 407.2"/>
<path class="l" d="M400.9 299.7C401.1 300.6 401.4 303.1 402.4 304.7C403.4 306.4 403.6 307.3 406.9 309.7C410.1 312.2 419.4 317.7 421.9 319.2"/>
<path class="l" d="M437.4 329.2L499.4 368.9"/>
<path class="l" d="M507 342.7L595.7 412.8"/>
<path class="l" d="M531 321.1L604 362.9"/>
<path class="l" d="M529 314.1L604 343"/>
<path class="t" d="M419 341.1C419.3 343.6 419.6 350.5 420.7 356.1C421.8 361.6 424.4 370.2 425.4 374.4C426.3 378.6 426.2 377.2 426.5 381.1C426.9 385 427.2 395 427.4 397.7"/>
<path class="t" d="M426.2 351.9L428.4 397.7"/>
<path class="t" d="M437.7 356.9L440 397.7"/>
<path class="l" d="M590.4 228.9L538.9 249.6C538.5 249.9 537.1 250.7 536.7 251.3C536.4 251.9 536.2 252.4 536.6 253.1C537 253.8 537 254.4 538.9 255.6C540.8 256.7 544.1 258.3 548 259.8C551.9 261.3 557.1 263.2 562.1 264.4C567.2 265.6 573.7 266.4 578.4 267.1C583.1 267.7 588.4 268.1 590.4 268.3"/>
<path class="l" d="M590.4 273.2C588.4 272.8 583.1 271.8 578.4 270.9C573.7 269.9 567.2 268.9 562.1 267.7C557.1 266.5 552.6 265.3 548 263.8C543.5 262.3 537.2 259.5 535 258.6A2.18 2.18 0 0 0 533.0 262.5C535.5 263.5 543.2 266.9 548 268.6C552.9 270.3 557.1 271.3 562.1 272.5C567.2 273.7 573.7 274.8 578.4 275.8C583.1 276.8 588.4 277.8 590.4 278.3"/>
<path class="l" d="M590.4 280.8C588.4 280.4 583.1 279.4 578.4 278.5C573.7 277.6 567.2 276.5 562.1 275.3C557.1 274.1 553.4 273.4 548 271.4C542.7 269.5 533 265 530 263.7A2.37 2.37 0 0 0 527.9 267.9C531.3 269.3 542.3 274.3 548 276.4C553.7 278.4 557.1 279.1 562.1 280.3C567.2 281.5 573.7 282.6 578.4 283.6C583.1 284.5 588.4 285.6 590.4 286"/>
<path class="l" d="M590.4 288.9C588.4 288.6 583.1 287.5 578.4 286.6C573.7 285.7 567.2 284.6 562.1 283.4C557.1 282.2 554.1 281.5 548 279.3C542 277.2 529.5 272 525.8 270.6A2.27 2.27 0 0 0 523.7 274.6C527.7 276.3 541.6 282.2 548 284.5C554.4 286.8 557.1 287.1 562.1 288.4C567.2 289.6 573.7 290.9 578.4 291.9C583.1 292.9 588.4 294.1 590.4 294.5"/>
<path class="l" d="M521.6 277.6C524.3 278.6 530.7 282.2 535.3 284.1C540 286 546.7 287.9 549.4 288.9C552.2 290 551.3 289.8 551.7 290.5C552 291.2 552 292.3 551.6 293C551.1 293.6 550 294 549.1 294.1C548.1 294.3 548.7 294.9 545.9 294C543.1 293.1 536.9 290.6 532.5 288.7C528.2 286.8 522.2 284.1 519.8 282.7C517.4 281.3 518.4 281 518.3 280.3C518.1 279.5 518.6 278.6 519.1 278.1C519.7 277.7 518.9 276.6 521.6 277.6Z"/>
<path class="l" d="M590.4 297.5C588.4 297.1 582.1 295.8 578.4 295.1C574.6 294.3 571.1 293.7 567.8 293C564.4 292.2 559.8 291.2 558.3 290.8A3.01 3.01 0 0 0 556.8 296.7C558.7 297.1 564.2 298.2 567.8 298.9C571.4 299.7 574.6 300.3 578.4 301.1C582.1 301.8 588.4 303.1 590.4 303.5"/>
<path class="l" d="M590.4 306.6C588.4 306.2 582.1 305 578.4 304.2C574.6 303.5 571.3 302.9 567.8 302.1C564.3 301.4 559 300.2 557.2 299.8A3.11 3.11 0 0 0 555.1 305.6C557.2 306.1 563.9 307.4 567.8 308.1C571.7 308.9 574.6 309.5 578.4 310.2C582.1 311 588.4 312.2 590.4 312.6"/>
<path class="l" d="M590.4 317.8C588.3 317.3 582.6 316.1 578.2 315.2C573.9 314.3 568.8 313.4 564.3 312.4C559.7 311.3 553 309.6 550.7 309A3.75 3.75 0 0 0 548.2 316.1C550.8 316.7 559.2 318.7 564.3 319.8C569.3 320.9 573.9 321.8 578.2 322.7C582.6 323.6 588.3 324.9 590.4 325.3"/>
<path class="l" d="M534.6 293C536.3 293.2 540.8 294.9 542.4 295.8C544 296.6 544.2 297 544.4 297.9C544.5 298.8 544 300.4 543.4 301.1C542.9 301.8 542.7 302.5 541 302.1C539.2 301.8 534.5 299.8 532.9 298.9C531.2 298.1 531.2 297.7 531.1 296.8C531 296 531.6 294.7 532.2 294C532.7 293.4 532.9 292.7 534.6 293Z"/>
<ellipse class="l" cx="539.7" cy="308.1" rx="3.9" ry="3.4" transform="rotate(-20 539.7 308.1)"/>
<path class="l" d="M509 234.4C509.8 235.6 512.7 239.3 513.7 241.9C514.7 244.5 515.1 247.6 515 250.2C514.9 252.9 513.5 256.5 513.2 257.7"/>
<path class="l" d="M515.7 226.9C516.7 227.9 519.9 230.1 521.5 232.7C523.1 235.4 524.8 239.4 525.4 242.7C525.9 246.1 525.9 249.1 524.9 252.7C523.8 256.3 521.7 261.1 519 264.4C516.4 267.7 512.4 270.5 509 272.7C505.7 275 501.6 276.7 499 277.7C496.4 278.8 495.3 279.1 493.4 279.2C491.5 279.3 488.5 278.5 487.5 278.4"/>
<path class="l" d="M495.9 259.2C498 259.7 505.7 260.8 508.4 261.7C511 262.7 512 263.8 511.7 265.1C511.4 266.3 509.1 268.3 506.7 269.2C504.3 270.2 499.1 270.6 497.5 270.9"/>
<path class="l" d="M497.7 262.7C498.8 262.9 502.4 263.2 504 263.7C505.7 264.2 507.1 265.4 507.7 265.7"/>
<path class="l" d="M473.4 283.4L477.5 286.4"/>
<ellipse class="w" cx="433.2" cy="318.9" rx="11.3" ry="19.2" transform="rotate(16 433.2 318.9)"/>
<path class="w" d="M494.5 286.5C496.2 286.5 501.2 286 504.5 286.3C507.8 286.7 511.5 287.5 514.4 288.8C517.4 290.2 520.3 292.1 522.4 294.3C524.6 296.6 526.2 299.5 527.4 302.3C528.6 305.1 529.2 308.3 529.4 311.3C529.6 314.2 529.2 317.4 528.4 320.2C527.6 323 526.4 325.9 524.4 328.2C522.4 330.5 519.8 332.3 516.4 334.2C513.1 336.1 508.5 338.1 504.5 339.7C500.5 341.2 496.2 342.6 492.5 343.6C488.9 344.7 484.2 345.5 482.6 345.8C481.9 346.1 480.2 347.2 478.6 347.6C476.9 348 474.7 348.4 472.6 348.1C470.4 347.9 467.6 347.5 465.6 346.1C463.6 344.8 461.7 342.5 460.6 340.1C459.6 337.8 459.1 334.8 459.1 332.2C459.1 329.5 459.7 326.6 460.6 324.2C461.5 321.8 464 318.8 464.6 317.7"/>
<path class="l" d="M460.1 301.8L453.2 307.3C453.2 308.6 453.1 312.1 453.7 315.2C454.2 318.4 455.7 323.4 456.6 326.2C457.6 329 458.7 331.2 459.1 332.2"/>
<path class="l" d="M517.9 308.3C518.8 309.1 522.1 311.3 523.4 313.2C524.7 315.2 525.6 317.9 525.9 320.2C526.2 322.5 525.5 326 525.4 327.2"/>
<path class="l" d="M466.1 322.2C466.9 323.2 468.2 326.3 470.6 328.2C473 330.1 477.2 332.5 480.6 333.7C483.9 334.8 487.2 335 490.5 335C493.8 335 497.2 334.6 500.5 333.7C503.8 332.7 508.1 330.8 510.5 329.2C512.8 327.6 513.7 325.7 514.4 324.2C515.2 322.7 514.9 320.9 514.9 320.2"/>
<path class="l" d="M466.8 326.7C467.9 327.6 471 330.6 473.6 332.2C476.1 333.8 480.6 335.5 482.1 336.2C483.8 336.4 488.8 337.5 492.5 337.4C496.3 337.2 500.8 336.6 504.5 335.4C508.1 334.2 512.3 332 514.4 330.2C516.6 328.3 516.9 325.9 517.2 324.2C517.6 322.5 516.6 320.9 516.4 320.2"/>
<path class="l" d="M465.6 319.2L465.6 345.1"/>
<path class="l" d="M482.1 336.2L482.6 345.8"/>
<path class="w" d="M464.6 297.3C464.8 297 464.6 296.7 465.6 295.8C466.6 294.9 468.6 293 470.6 291.8C472.6 290.7 475.1 289.6 477.6 288.8C480.1 288.1 482.7 287.7 485.5 287.3C488.4 287 491.7 286.8 494.5 286.8C497.3 286.9 499.8 287.2 502.5 287.8C505.1 288.5 508.3 289.7 510.5 290.8C512.6 292 514.3 293.6 515.4 294.8C516.6 296 517.1 297.3 517.4 297.8L517.4 317.7L515.4 318.7L508.5 325.2L496.5 327.7L481.1 327.2L471.1 324.2L464.4 317.2L464.6 297.3Z"/>
<path class="l" d="M464.6 302.3L471.6 309.5L481.6 312.2L496.5 312.7L508.5 310.3L515.4 303.8L517.4 298.3"/>
<path class="l" d="M465.6 302.8L466.1 318.2M471.1 309.5L471.1 324.2M471.9 309.7L471.9 324.4M481.1 312.2L481.1 327.2M482.2 312.3L482.2 327.4M496.5 312.7L496.5 327.7M497.6 312.6L497.6 327.5M508.5 310.3L508.7 325.2M514.6 304.3L514.6 319.2M515.4 303.8L515.6 318.7"/>
<ellipse class="wm" cx="490.8" cy="298.1" rx="18.1" ry="9.3"/>
<path class="m" d="M474.6 293.8C475.6 293.1 477.9 290.7 480.6 289.8C483.3 288.9 487.3 288.3 490.8 288.3C494.3 288.3 498.8 288.9 501.5 289.8C504.2 290.7 506.1 293.1 507 293.8"/>
<path class="k" d="M424.8 311.7C425 314.1 425.5 322.5 426 325.7C426.5 328.9 426.5 329.4 427.8 330.7C429.1 332 432.8 333 433.8 333.5C434.6 332.5 437.1 330.6 438.8 327.7C440.4 324.7 442.8 319.3 443.8 315.7C444.8 312.2 444.6 308.1 444.8 306.6L424.8 311.7Z" style="fill:#fff"/>
<path class="h" d="M425.3 312.2C425.4 314.5 425.6 322.6 426 325.7C426.4 328.8 426.5 329.4 427.8 330.7C429.1 331.9 432.8 332.8 433.8 333.2" style="stroke-width:3.8"/>
<path class="k" d="M436.6 308.8L445 306.4C444.8 307.9 444.7 312.6 444.2 315.7C443.6 318.8 442 323.4 441.6 324.9L438 326.1C437.8 324.7 437 320.6 436.8 317.7C436.6 314.8 436.6 310.3 436.6 308.8Z"/>
<path class="wh" d="M418.8 292.3C419.6 291.4 421.2 290 422.8 288.8C424.5 287.7 426.5 286.5 428.8 285.3C431.1 284.1 434.1 282.8 436.8 281.7C439.4 280.5 442.1 279.5 444.8 278.7C447.4 277.8 450.1 277 452.7 276.4C455.4 275.7 458.8 275 460.7 274.9C462.6 274.7 463.4 274.8 464.4 275.4C465.4 275.9 466.3 276.7 466.9 278.1C467.5 279.5 467.8 281.7 468 283.8C468.2 286 468.4 288.7 468.2 290.8C467.9 292.9 467.3 294.8 466.5 296.3C465.6 297.8 464.5 299 463.2 299.8C461.9 300.5 460.5 300.4 458.7 300.8C457 301.2 455.1 301.4 452.7 302C450.4 302.6 447.1 303.4 444.8 304.3C442.4 305.1 440.6 306.1 438.8 307C436.9 307.8 435.5 308.8 433.8 309.6C432.1 310.3 430.6 311.2 428.8 311.5C427 311.9 424.6 312.1 422.8 311.9C421 311.8 419.2 311.2 418 310.6C416.9 309.9 416 308.8 415.9 308C415.7 307.1 416.6 306 417.1 305.3C417.6 304.6 418.6 304.9 418.8 303.8C419.1 302.7 418.8 300.4 418.6 298.8C418.5 297.2 418 295.4 418 294.3C418.1 293.2 418 293.2 418.8 292.3Z"/>
<path class="t" d="M421.6 297.3C422.8 297.4 426 298.8 428.8 298.1C431.7 297.4 435.1 294.8 438.8 293.3C442.4 291.9 446.9 290.4 450.7 289.3C454.6 288.2 459.9 287.3 461.7 286.8"/>
<path class="t" d="M429.3 299.8L429.6 306.8M461.5 289.8L461.7 297.3"/>
<path class="t" d="M418.8 308.6C419.5 308.7 421.5 309.4 422.8 309.6C424.2 309.7 426.2 309.6 426.8 309.6"/>
</g>
<path class="k" d="M380 259.2C384.2 258.1 397.2 254.3 405 253C412.8 251.7 419.7 251.4 426.7 251.5C433.6 251.6 440 252.3 446.7 253.5C453.3 254.7 460.7 256.9 466.7 258.7C472.6 260.5 479.9 263.4 482.5 264.3L488.3 259.2L490.8 272L469.2 269.5L474.7 269.2C472.8 268.6 468 266.9 463.3 265.7C458.7 264.4 452.8 262.6 446.7 261.5C440.6 260.4 433.6 259.4 426.7 259.3C419.7 259.2 411.7 260.1 405 261C398.3 261.9 389.7 264.3 386.7 265L380 259.2Z"/>
<path class="l" d="M387.5 265L425.8 292.5" style="stroke-dasharray:8 2 2 2;stroke-width:1.1;stroke-linecap:butt"/>
<path class="l" d="M426.2 240L426.2 292.5" style="stroke-dasharray:8 2 2 2;stroke-width:1.1;stroke-linecap:butt"/>
<path class="l" d="M425.8 292.5L486.7 272" style="stroke-dasharray:8 2 2 2;stroke-width:1.1;stroke-linecap:butt"/>
<path class="k" d="M419.2 185.3L429.7 181.8L431.2 219.3L436.7 217.0L425.3 239.8L414.2 224.8L420.0 223.2Z"/>
<circle class="k" cx="456.2" cy="194.5" r="13.0"/>
<circle class="k" cx="356.2" cy="263.8" r="13.0"/>
<path class="k" d="M415.8 108.7C416.1 113.4 417 132.1 417.5 137.3C418 142.5 418.3 139.1 418.7 139.8C419 140.5 419.4 141.2 419.5 141.5L419.5 169.8C419.9 170.5 420.6 172.8 421.7 173.7C422.8 174.5 424.7 175 426.2 175C427.6 175 429.4 174.5 430.5 173.7C431.6 172.8 432.3 170.5 432.7 169.8L432.7 141C433 140.4 434.2 142.5 434.7 137.7C435.1 132.8 435.1 116.3 435.2 112L415.8 108.7Z"/>
<path class="k" d="M421.2 111L422 137.3C422.6 137.6 424.4 139 425.8 139C427.2 139 429.7 137.6 430.5 137.3L430.8 113.2L421.2 111Z" style="fill:#fff"/>
<path class="k" d="M423.3 143.7C423.8 143.5 424.9 142.8 425.8 142.8C426.8 142.8 428.3 143.5 428.8 143.7L428.8 169.3C428.4 169.6 427.1 170.7 426.2 170.7C425.2 170.7 423.5 169.6 423 169.3L423.3 143.7Z" style="fill:#fff"/>
<path class="k" d="M415.5 148.2L417 147L420 147L420 159.8L417 159.8L415.5 158.7Z"/>
<path class="wh" d="M396.3 77.3C396.9 76.6 397.2 75.6 399.2 75.3C401.2 75 405.1 75.3 408.3 75.5C411.5 75.7 416.2 75.8 418.3 76.3C420.5 76.9 420.4 77.5 421.3 78.7C422.3 79.8 423 81.8 424.2 83.2C425.3 84.6 426.7 85.8 428.3 87C430 88.2 432.8 89.2 434.2 90.3C435.5 91.5 435.9 92.3 436.3 94C436.8 95.7 436.1 99.1 436.7 100.7C437.3 102.3 439.2 102.6 440 103.7C440.8 104.7 441.5 105.9 441.3 107C441.2 108.1 440.4 109.5 439.2 110.3C438 111.2 436 111.8 434.2 112C432.4 112.2 430.3 111.9 428.3 111.5C426.4 111.1 424.6 110.2 422.5 109.5C420.4 108.8 418.2 108.2 415.8 107C413.5 105.8 410.7 103.7 408.3 102C406 100.3 403.6 98.8 401.7 97C399.8 95.2 398 93.4 397 91.5C396 89.6 396.1 87.6 395.8 85.7C395.6 83.7 395.6 81.2 395.7 79.8C395.8 78.4 395.8 78.1 396.3 77.3Z"/>
<path class="t" d="M398.7 79.8C399.4 80.9 400.9 84.3 403.3 86.5C405.8 88.7 410 91.4 413.3 93.2C416.7 95 420.6 96.6 423.3 97.3C426.1 98.1 428.1 98.2 430 97.8C431.9 97.5 433.9 95.8 434.7 95.3"/>
<path class="t" d="M426.7 108.7C427.8 108.7 431.4 109 433.3 108.7C435.3 108.3 437.5 106.9 438.3 106.5"/>
<path class="t" d="M402 88.7L402.5 94.3M405.8 91L406.2 98.2M409.7 93.2L410 100.7"/>
<path class="l" d="M433.3 154.3L473.7 130.7"/>

<!-- 13.svg -->
<clipPath id="c13"><rect x="596" y="66" width="531" height="310.7"/></clipPath>
<g clip-path="url(#c13)">
<path class="m" d="M898.3 275.8C899.2 276.3 901.5 277.6 903.3 278.3C905.1 279 908.2 279.7 909.2 280C915.8 285 928 293.9 949 310C970 326.1 1020.7 365.6 1035 376.7"/>
<path class="m" d="M966.7 313.7L1025 356.7"/>
<path class="l" d="M1005.8 325.8L1013.3 330"/>
<path class="m" d="M1028.3 342.5L1076.7 376.7"/>
<path class="l" d="M915 256.7L920 259.2"/>
<path class="wm" d="M1035 376.7L1020 364.2L1029.2 350.8L1050.8 366.7L1042.5 376.7"/>
<path class="m" d="M1046.7 373.3L1052.5 376.7"/>
<path class="h" d="M1009.2 308.3L1126.7 365.3" style="stroke-width:2.6;stroke-linecap:butt"/>
<path class="wm" d="M1033.7 313L1042.5 319.2C1041 321.5 1036.5 328.8 1033.3 333.3C1030.2 337.9 1025.8 344.1 1023.7 346.7C1021.6 349.2 1021.9 348.4 1020.8 348.7C1019.8 348.9 1019.2 349 1017.5 348C1015.8 347 1011.8 344 1010.3 342.5C1008.9 341 1008.7 340.4 1008.8 339.2C1008.9 337.9 1007.4 339 1010.8 335C1014.2 331 1025.4 318.7 1029.2 315C1033 311.3 1032.9 313.3 1033.7 313Z"/>
<path class="t" d="M1022.5 324.2L1033.3 331.7"/>
<path class="k" d="M1035.3 318.3L1040.8 320L1039.7 324.2L1034.7 323.3Z"/>
<path class="k" d="M974.7 293.7C974.8 291.8 976.2 289.2 978.3 288.7C980.5 288.1 982.8 288.2 987.5 290.3C992.2 292.4 1002.9 298.8 1006.7 301.3C1010.5 303.9 1010.1 304.2 1010.3 305.8C1010.5 307.5 1009.1 310.4 1007.8 311.2C1006.5 311.9 1006.3 311.6 1002.5 310.3C998.7 309 989.2 305.1 985 303.3C980.8 301.6 979.2 301.6 977.5 300C975.8 298.4 974.5 295.6 974.7 293.7Z"/>
<ellipse class="k" cx="984" cy="296.3" rx="4.5" ry="3.2" transform="rotate(25 984 296.3)" style="fill:#fff"/>
<path class="t" d="M1003.3 303.3L1002 308.7" style="stroke:#fff"/>
<path class="l" d="M986.7 246.7L986.7 291.7"/>
<path class="k" d="M937.5 274.5L953.0 273.8L951.7 278.0L971.7 286.7L969.2 292.0L949.2 283.0L947.0 286.3Z"/>
<path d="M776.3 189.2C775.7 187.1 773.4 180.4 772.5 176.7C771.6 172.9 771 169.9 771.2 166.7C771.4 163.5 772 160.3 773.7 157.5C775.4 154.7 778.5 151.9 781.3 149.8C784.2 147.8 789.2 145.9 790.8 145.2L848.7 124.7" fill="none" stroke="#000" stroke-width="5.6" stroke-linecap="round" stroke-linejoin="round"/>
<path d="M776.3 189.2C775.7 187.1 773.4 180.4 772.5 176.7C771.6 172.9 771 169.9 771.2 166.7C771.4 163.5 772 160.3 773.7 157.5C775.4 154.7 778.5 151.9 781.3 149.8C784.2 147.8 789.2 145.9 790.8 145.2L848.7 124.7" fill="none" stroke="#fff" stroke-width="2.9" stroke-linecap="round" stroke-linejoin="round"/>
<path class="wm" d="M846 194.2L856 179.2L855.3 176.7L866.7 184.2L864.2 185.5L853.3 200"/>
<path class="wm" d="M856.7 170C858 169.5 860.8 168.7 863.3 169.7C865.8 170.6 869.9 173.8 871.7 175.8C873.4 177.8 873.9 180.2 873.7 181.7C873.4 183.1 872.1 184.4 870.3 184.5C868.6 184.6 865.6 183.4 863.3 182C861.1 180.6 858 177.8 856.7 176.2C855.4 174.6 855.5 173.5 855.5 172.5C855.5 171.5 855.4 170.5 856.7 170Z"/>
<path class="l" d="M859.3 179.2L857.8 183.3M861.8 180.8L860.3 185.3M864.3 182.5L863 186.7"/>
<path class="k" d="M805.8 222.5C804.3 224 800.1 228.6 796.7 231.7C793.2 234.7 788.3 237.9 785 240.8C781.7 243.8 778.7 246.2 776.7 249.2C774.7 252.1 773.4 255.7 773 258.3C772.6 261 773 263.3 774.2 265C775.3 266.7 777.9 268.4 780 268.7C782.1 268.9 785.1 268 786.7 266.7C788.3 265.4 789.1 262.8 789.7 260.8C790.2 258.9 789.4 256.8 790 255C790.6 253.2 791.1 252.1 793.3 250C795.6 247.9 799.3 245.7 803.3 242.5C807.4 239.3 815.1 232.8 817.5 230.8L805.8 222.5Z"/>
<path class="k" d="M775 215.8C775.6 214.9 778.1 212.6 780 211.7C781.9 210.8 784.4 210.2 786.7 210.3C788.9 210.5 791.9 211.7 793.3 212.5C794.7 213.3 795.8 214.2 795 215C794.2 215.8 790.6 216.8 788.3 217.5C786.1 218.2 783.6 219.2 781.7 219.2C779.7 219.2 777.8 218.1 776.7 217.5C775.6 216.9 774.4 216.8 775 215.8Z"/>
<path class="l" d="M779.7 268.3L779.7 313"/>
<path class="wm" d="M730 161.7L744.2 171.7C743.9 172.5 742.4 175 742.5 176.7C742.6 178.3 743.2 179.9 745 181.7C746.8 183.5 750.4 185.9 753.3 187.5C756.2 189.1 759.2 191.1 762.5 191.3C765.8 191.6 771.5 189.5 773.3 189.2L817 169.3L819.2 169.7L914.2 251.7L914.7 254.2L898.3 275.3C892.8 272.5 874.2 263.1 865 258.3C855.8 253.6 851.4 251.4 843.3 246.7C835.3 241.9 822.8 234 816.7 230C810.6 226 810.6 225.4 806.7 222.5C802.8 219.6 796.4 214.4 793.3 212.5C790.3 210.6 790.3 210.8 788.3 210.8C786.4 210.8 784.2 211.5 781.7 212.5C779.2 213.5 776.7 215.3 773.3 216.7C770 218.1 764.7 220.1 761.7 220.8C758.6 221.5 757.5 221.5 755 220.8C752.5 220.1 750.3 219 746.7 216.7C743.1 214.3 737.5 210 733.3 206.7C729.2 203.3 724.3 199.4 721.7 196.7C719 193.9 718.2 192.5 717.5 190C716.8 187.5 716.8 185 717.5 181.7C718.2 178.3 720.4 172.9 721.7 170C722.9 167.1 723.6 165.6 725 164.2C726.4 162.8 729.2 162.1 730 161.7Z"/>
<path class="k" d="M728.3 160.8C728.5 158.7 728.1 152.4 729.2 148.3C730.3 144.3 731.8 141.4 735 136.7C738.2 131.9 742.5 127.6 748.3 120C754.2 112.4 765.8 96 770 90.8C774.2 85.7 772.4 89.2 773.3 89.2C774.3 89.2 775.8 89.6 775.8 90.8C775.8 92.1 776.5 92.1 773.3 96.7C770.1 101.2 761.7 111.7 756.7 118.3C751.7 125 746.8 131.4 743.3 136.7C739.9 141.9 737.8 145.9 735.8 150C733.8 154.1 732.1 159.4 731.3 161.3L728.3 160.8Z"/>
<path class="wm" d="M730 161.7L778.3 91.7C778.8 91.3 779.6 90.1 780.8 89.7C782.1 89.2 784.2 88.8 785.8 89.2C787.5 89.5 789.4 90.4 790.8 91.7C792.2 92.9 793.8 95 794.2 96.7C794.5 98.3 793.2 100.8 793 101.7L744.2 171.7L730 161.7Z"/>
<path class="k" d="M728 160.8C728.1 158.7 727.6 152.4 728.7 148.3C729.7 144.3 731.2 141.4 734.2 136.7C737.2 131.9 740.8 127.6 746.7 120C752.5 112.4 764.9 96 769.2 90.8C773.5 85.6 771.5 88.8 772.5 88.8C773.5 88.8 775.2 89.7 775.3 90.8C775.5 92 776.4 91.5 773.3 95.8C770.2 100.1 761.7 110.2 756.7 116.7C751.7 123.1 746.8 129.7 743.3 134.7C739.9 139.7 737.9 142.4 735.8 146.7C733.8 150.9 731.7 157.8 730.8 160L728 160.8Z"/>
<path class="t" d="M733.3 155C735 152.2 739.4 144.2 743.3 138.3C747.2 132.5 751.3 126.9 756.7 120C762 113.1 772.2 100.6 775.3 96.7" style="stroke:#fff;stroke-width:0.8"/>
</g>
<path class="k" d="M670 165C670.8 162.2 673.1 153.6 675 148.3C676.9 143.1 679.2 138.2 681.7 133.3C684.2 128.5 687.9 122.4 690 119.2C692.1 115.9 693.5 114.6 694.2 113.7L689.2 110L708.8 102.5L705 122L699.7 118.7C699 119.4 697.7 120.5 695.8 123.3C693.9 126.2 690.7 131.4 688.3 135.8C686 140.3 683.6 144.9 681.7 150C679.7 155.1 677.5 163.6 676.7 166.3L670 165Z"/>
<path class="g" d="M721.2 86.3L757.5 107"/>
<path class="k" d="M803.7 269.5L818.7 269.2L817.5 273.3L837.0 282.5L834.7 288.0L814.7 278.7L813.0 281.7Z"/>
<circle class="k" cx="658.7" cy="118.7" r="13.0"/>
<circle class="k" cx="864.7" cy="297.8" r="13.0"/>
<circle class="k" cx="948.7" cy="238.0" r="13.0"/>

<!-- 21.svg -->
<clipPath id="c21"><rect x="58" y="420" width="532" height="306"/></clipPath>
<g clip-path="url(#c21)">
<path class="m" d="M413.3 614.1L512 688.5"/>
<path class="m" d="M404.2 625L523.3 712.6"/>
<path class="m" d="M396.7 633C397.6 633.4 400.6 634.9 402.5 635.8C404.4 636.7 407.4 637.9 408.3 638.3L519.2 721.8"/>
<circle class="wm" cx="438.3" cy="642.3" r="5.5" style="fill:#fff"/>
<path class="m" d="M526.7 700.2L564.2 726"/>
<path class="wm" d="M518.3 721L526.7 708.5L548.3 725.2"/>
<path class="h" d="M537.5 681L577.5 701" style="stroke-width:2.6;stroke-linecap:butt"/>
<path class="m" d="M516.7 663.5L530 671.8"/>
<path class="m" d="M511.7 669.3L523.3 676.3"/>
<path class="wh" d="M503.3 657.7C504.1 656.6 505.1 656 506.7 656C508.2 656 510.9 656.6 512.5 657.7C514.1 658.7 515.8 660.7 516.3 662.3C516.9 663.9 516.8 666.2 516 667.3C515.2 668.5 513.4 669.3 511.7 669.3C510 669.4 507.4 668.8 505.8 667.7C504.2 666.6 502.4 664.3 502 662.7C501.6 661 502.6 658.8 503.3 657.7Z" style="stroke-width:2"/>
<path class="wm" d="M510 695.2C513.7 690.9 525.9 677 529.7 673C533.4 669 531.5 671.1 532.5 671C533.5 670.9 534.9 671.6 535.8 672.3C536.8 673 537.8 674 538 675.2C538.2 676.3 538.3 676.7 537 679.3C535.7 682 532.7 686.8 530 691C527.3 695.2 522.8 701.8 520.8 704.3C518.9 706.9 519.3 706.1 518.3 706.3C517.4 706.6 516.5 706.8 515 706C513.5 705.2 510.4 702.6 509.2 701.3C507.9 700.1 507.4 699.5 507.5 698.5C507.6 697.5 506.3 699.4 510 695.2Z"/>
<path class="t" d="M520.8 682.3L530 688.5"/>
<path class="h" d="M534.2 676C533.3 676.6 532.8 679.4 533.3 680.2C533.9 680.9 536.6 681.2 537.5 680.7C538.4 680.1 539.2 677.6 538.7 676.8C538.1 676.1 535.1 675.4 534.2 676Z" style="stroke-width:1.8"/>
<path class="h" d="M216.3 513.3C216.3 518.9 216.3 536.7 216.3 546.7C216.3 556.7 215.7 566.4 216.3 573.3C216.9 580.3 217.7 583.6 220 588.3C222.3 593.1 225.6 598.4 230 601.7C234.4 604.9 240 606.8 246.7 608C253.3 609.2 262.2 608.8 270 609.2C277.8 609.5 289.4 609.9 293.3 610C294.4 609.5 296.9 610.9 300 607C303.1 603.1 309.7 590.1 311.7 586.7" style="stroke-width:6"/>
<path class="k" d="M325 594.2C325.4 597.6 326.7 608.8 327.5 615C328.3 621.2 328.5 626.8 330 631.7C331.5 636.5 334.7 641.7 336.7 644.2C338.6 646.7 339.7 646.7 341.7 646.7C343.6 646.7 346.8 645.6 348.3 644.2C349.9 642.8 350.8 640.4 350.8 638.3C350.8 636.2 349.9 634.4 348.3 631.7C346.8 628.9 342.9 626.2 341.7 621.7C340.4 617.1 341 607.1 340.8 604.2L325 594.2Z"/>
<path class="l" d="M340.5 646.7L340.5 690.8"/>
<path d="M273.8 547.5C273.2 545.4 270.9 538.7 270 535C269.1 531.2 268.5 528.2 268.7 525C268.9 521.8 269.5 518.6 271.2 515.8C272.9 513 276 510.2 278.8 508.1C281.7 506.1 286.8 504.2 288.3 503.5L346.2 483" fill="none" stroke="#000" stroke-width="5.6" stroke-linecap="round" stroke-linejoin="round"/>
<path d="M273.8 547.5C273.2 545.4 270.9 538.7 270 535C269.1 531.2 268.5 528.2 268.7 525C268.9 521.8 269.5 518.6 271.2 515.8C272.9 513 276 510.2 278.8 508.1C281.7 506.1 286.8 504.2 288.3 503.5L346.2 483" fill="none" stroke="#fff" stroke-width="2.9" stroke-linecap="round" stroke-linejoin="round"/>
<path class="wm" d="M343.5 552.5L353.5 537.5L352.8 535L364.2 542.5L361.7 543.8L350.8 558.3"/>
<path class="wm" d="M354.2 528.3C355.5 527.8 358.3 527 360.8 528C363.3 528.9 367.4 532.1 369.2 534.1C370.9 536.1 371.4 538.5 371.2 540C370.9 541.4 369.6 542.7 367.8 542.8C366.1 542.9 363.1 541.7 360.8 540.3C358.6 538.9 355.5 536.1 354.2 534.5C352.9 532.9 353 531.8 353 530.8C353 529.8 352.9 528.8 354.2 528.3Z"/>
<path class="l" d="M356.8 537.5L355.3 541.6M359.3 539.1L357.8 543.6M361.8 540.8L360.5 545"/>
<path class="wm" d="M227.5 520L241.7 530C241.4 530.8 239.9 533.3 240 535C240.1 536.6 240.7 538.2 242.5 540C244.3 541.8 247.9 544.2 250.8 545.8C253.8 547.4 256.7 549.4 260 549.6C263.3 549.9 269 547.8 270.8 547.5L314.5 527.6L316.7 528L411.7 610L412.2 612.5L395.8 633.6C390.3 630.8 371.7 621.4 362.5 616.6C353.3 611.9 348.9 609.7 340.8 605C332.8 600.2 320.3 592.3 314.2 588.3C308.1 584.3 308.1 583.7 304.2 580.8C300.3 577.9 293.9 572.7 290.8 570.8C287.8 568.9 287.8 569.1 285.8 569.1C283.9 569.1 281.7 569.8 279.2 570.8C276.7 571.8 274.2 573.6 270.8 575C267.5 576.4 262.2 578.4 259.2 579.1C256.1 579.8 255 579.8 252.5 579.1C250 578.4 247.8 577.3 244.2 575C240.6 572.6 235 568.3 230.8 565C226.7 561.6 221.8 557.7 219.2 555C216.5 552.2 215.7 550.8 215 548.3C214.3 545.8 214.3 543.3 215 540C215.7 536.6 217.9 531.2 219.2 528.3C220.4 525.4 221.1 523.9 222.5 522.5C223.9 521.1 226.7 520.4 227.5 520Z"/>
<path class="wm" d="M227.5 520L275.8 450C276.3 449.6 277.1 448.4 278.3 448C279.6 447.6 281.7 447.1 283.3 447.5C285 447.8 286.9 448.7 288.3 450C289.7 451.2 291.3 453.3 291.7 455C292 456.6 290.7 459.1 290.5 460L241.7 530L227.5 520Z"/>
</g>
<path class="g" d="M175.8 498.7L213.3 520.8"/>
<path class="k" d="M166.3 529.2C166 532.6 164.3 543.5 164.2 550C164 556.5 164.7 562.9 165.3 568.3C166 573.8 167.6 580.1 168 582.5L160.8 585.3L175.8 600.3L180.8 580.8L173.7 581.7C173.2 579.4 171.4 573.6 170.8 568.3C170.2 563.1 169.6 556.4 170 550C170.4 543.6 172.5 533.3 173 530L166.3 529.2Z"/>
<path class="k" d="M293.0 632.5L313.0 641.3L314.7 638.3L324.2 650.0L309.2 650.8L310.7 647.0L290.3 638.3Z"/>

<!-- 22.svg -->
<clipPath id="c22"><rect x="596" y="420" width="266.5" height="297.5"/></clipPath>
<g clip-path="url(#c22)">
<path class="l" d="M760.3 571L888.6 511.8"/>
<path class="l" d="M687.5 619.8C686.2 622.3 681.6 631 680 634.7C678.4 638.3 677.8 639.5 678 641.7C678.1 643.8 678.9 645.3 681 647.7C683 650.1 686.3 652.8 690.3 656C694.3 659.2 702.4 665.3 704.8 667.2L808 733.8"/>
<path class="l" d="M689 622.3C688.9 623.1 688 624.9 688.5 626.8C689 628.7 688.9 630.7 692 633.7C695 636.6 704.3 642.8 706.8 644.7"/>
<path class="l" d="M685.5 626.3C686.1 627.6 685.6 630.5 689 633.7C692.4 636.8 703 643.2 705.8 645.2"/>
<path class="l" d="M722 655.8L784 695.5"/>
<path class="l" d="M791.6 669.3L880.3 739.4"/>
<path class="l" d="M815.6 647.7L888.6 689.5"/>
<path class="l" d="M813.6 640.7L888.6 669.6"/>
<path class="t" d="M703.6 667.7C703.9 670.2 704.2 677.1 705.3 682.7C706.4 688.2 709 696.8 710 701C710.9 705.2 710.8 703.8 711.1 707.7C711.5 711.6 711.8 721.6 712 724.3"/>
<path class="t" d="M710.8 678.5L713 724.3"/>
<path class="t" d="M722.3 683.5L724.6 724.3"/>
<path class="l" d="M875 555.5L823.5 576.2C823.1 576.5 821.7 577.3 821.3 577.9C821 578.5 820.8 579 821.2 579.7C821.6 580.4 821.6 581 823.5 582.2C825.4 583.3 828.7 584.9 832.6 586.4C836.5 587.9 841.7 589.8 846.7 591C851.8 592.2 858.3 593 863 593.7C867.7 594.3 873 594.7 875 594.9"/>
<path class="l" d="M875 599.8C873 599.4 867.7 598.4 863 597.5C858.3 596.5 851.8 595.5 846.7 594.3C841.7 593.1 837.2 591.9 832.6 590.4C828.1 588.9 821.8 586.1 819.6 585.2A2.18 2.18 0 0 0 817.6 589.1C820.1 590.1 827.8 593.5 832.6 595.2C837.5 596.9 841.7 597.9 846.7 599.1C851.8 600.3 858.3 601.4 863 602.4C867.7 603.4 873 604.4 875 604.9"/>
<path class="l" d="M875 607.4C873 607 867.7 606 863 605.1C858.3 604.2 851.8 603.1 846.7 601.9C841.7 600.7 838 600 832.6 598C827.3 596.1 817.6 591.6 814.6 590.3A2.37 2.37 0 0 0 812.5 594.5C815.9 595.9 826.9 600.9 832.6 603C838.3 605 841.7 605.7 846.7 606.9C851.8 608.1 858.3 609.2 863 610.2C867.7 611.1 873 612.2 875 612.6"/>
<path class="l" d="M875 615.5C873 615.2 867.7 614.1 863 613.2C858.3 612.3 851.8 611.2 846.7 610C841.7 608.8 838.7 608.1 832.6 605.9C826.6 603.8 814.1 598.6 810.4 597.2A2.27 2.27 0 0 0 808.3 601.2C812.3 602.9 826.2 608.8 832.6 611.1C839 613.4 841.7 613.7 846.7 615C851.8 616.2 858.3 617.5 863 618.5C867.7 619.5 873 620.7 875 621.1"/>
<path class="l" d="M806.2 604.2C808.9 605.2 815.3 608.8 819.9 610.7C824.6 612.6 831.3 614.5 834 615.5C836.8 616.6 835.9 616.4 836.3 617.1C836.6 617.8 836.6 618.9 836.2 619.6C835.7 620.2 834.6 620.6 833.7 620.7C832.7 620.9 833.3 621.5 830.5 620.6C827.7 619.7 821.5 617.2 817.1 615.3C812.8 613.4 806.8 610.7 804.4 609.3C802 607.9 803 607.6 802.9 606.9C802.7 606.1 803.2 605.2 803.7 604.7C804.3 604.3 803.5 603.2 806.2 604.2Z"/>
<path class="l" d="M875 624.1C873 623.7 866.7 622.4 863 621.7C859.2 620.9 855.7 620.3 852.4 619.6C849 618.8 844.4 617.8 842.9 617.4A3.01 3.01 0 0 0 841.4 623.3C843.3 623.7 848.8 624.8 852.4 625.5C856 626.3 859.2 626.9 863 627.7C866.7 628.4 873 629.7 875 630.1"/>
<path class="l" d="M875 633.2C873 632.8 866.7 631.6 863 630.8C859.2 630.1 855.9 629.5 852.4 628.7C848.9 628 843.6 626.8 841.8 626.4A3.11 3.11 0 0 0 839.7 632.2C841.8 632.7 848.5 634 852.4 634.7C856.3 635.5 859.2 636.1 863 636.8C866.7 637.6 873 638.8 875 639.2"/>
<path class="l" d="M875 644.4C872.9 643.9 867.2 642.7 862.8 641.8C858.5 640.9 853.4 640 848.9 639C844.3 637.9 837.6 636.2 835.3 635.6A3.75 3.75 0 0 0 832.8 642.7C835.4 643.3 843.8 645.3 848.9 646.4C853.9 647.5 858.5 648.4 862.8 649.3C867.2 650.2 872.9 651.5 875 651.9"/>
<path class="l" d="M819.2 619.6C820.9 619.8 825.4 621.5 827 622.4C828.6 623.2 828.8 623.6 829 624.5C829.1 625.4 828.6 627 828 627.7C827.5 628.4 827.3 629.1 825.6 628.7C823.8 628.4 819.1 626.4 817.5 625.5C815.8 624.7 815.8 624.3 815.7 623.4C815.6 622.6 816.2 621.3 816.8 620.6C817.3 620 817.5 619.3 819.2 619.6Z"/>
<ellipse class="l" cx="824.3" cy="634.7" rx="3.9" ry="3.4" transform="rotate(-20 824.3 634.7)"/>
<path class="l" d="M793.6 561C794.4 562.2 797.3 565.9 798.3 568.5C799.3 571.1 799.7 574.2 799.6 576.8C799.5 579.5 798.1 583.1 797.8 584.3"/>
<path class="l" d="M800.3 553.5C801.3 554.5 804.5 556.7 806.1 559.3C807.7 562 809.4 566 810 569.3C810.5 572.7 810.5 575.7 809.5 579.3C808.4 582.9 806.5 587.6 803.6 591C800.7 594.4 795.9 597.3 792 599.7C788.1 602.1 783.6 604.4 780.3 605.3C777 606.2 774.6 605.9 772 605.2C769.3 604.4 765.7 601.7 764.5 601"/>
<path class="l" d="M787 587.7C788.1 587.9 792.2 588.5 793.6 589.3C795 590.2 796.1 591.6 795.3 592.7C794.5 593.8 791.4 595.3 788.6 596C785.9 596.7 780.3 596.7 778.6 596.8"/>
<path class="l" d="M751.1 606.8L762 611.8"/>
<ellipse class="w" cx="717.8" cy="645.5" rx="11.3" ry="19.2" transform="rotate(16 717.8 645.5)"/>
<path class="w" d="M779.1 613.1C780.8 613.1 785.8 612.6 789.1 612.9C792.4 613.3 796.1 614.1 799 615.4C802 616.8 804.9 618.7 807 620.9C809.2 623.2 810.8 626.1 812 628.9C813.2 631.7 813.8 634.9 814 637.9C814.2 640.8 813.8 644 813 646.8C812.2 649.6 811 652.5 809 654.8C807 657.1 804.4 658.9 801 660.8C797.7 662.7 793.1 664.7 789.1 666.3C785.1 667.8 780.8 669.2 777.1 670.2C773.5 671.3 768.8 672.1 767.2 672.4C766.5 672.7 764.8 673.8 763.2 674.2C761.5 674.6 759.3 675 757.2 674.7C755 674.5 752.2 674.1 750.2 672.7C748.2 671.4 746.3 669.1 745.2 666.7C744.2 664.4 743.7 661.4 743.7 658.8C743.7 656.1 744.3 653.2 745.2 650.8C746.1 648.4 748.6 645.4 749.2 644.3"/>
<path class="l" d="M744.7 628.4L737.8 633.9C737.8 635.2 737.7 638.7 738.3 641.8C738.8 645 740.3 650 741.2 652.8C742.2 655.6 743.3 657.8 743.7 658.8"/>
<path class="l" d="M802.5 634.9C803.4 635.7 806.7 637.9 808 639.8C809.3 641.8 810.2 644.5 810.5 646.8C810.8 649.1 810.1 652.6 810 653.8"/>
<path class="l" d="M750.7 648.8C751.5 649.8 752.8 652.9 755.2 654.8C757.6 656.7 761.8 659.1 765.2 660.3C768.5 661.4 771.8 661.6 775.1 661.6C778.4 661.6 781.8 661.2 785.1 660.3C788.4 659.3 792.7 657.4 795.1 655.8C797.4 654.2 798.3 652.3 799 650.8C799.8 649.3 799.5 647.5 799.5 646.8"/>
<path class="l" d="M751.4 653.3C752.5 654.2 755.6 657.2 758.2 658.8C760.7 660.4 765.2 662.1 766.7 662.8C768.4 663 773.4 664.1 777.1 664C780.9 663.8 785.4 663.2 789.1 662C792.7 660.8 796.9 658.6 799 656.8C801.2 654.9 801.5 652.5 801.8 650.8C802.2 649.1 801.2 647.5 801 646.8"/>
<path class="l" d="M750.2 645.8L750.2 671.7"/>
<path class="l" d="M766.7 662.8L767.2 672.4"/>
<path class="w" d="M749.2 623.9C749.4 623.6 749.2 623.3 750.2 622.4C751.2 621.5 753.2 619.6 755.2 618.4C757.2 617.3 759.7 616.2 762.2 615.4C764.7 614.7 767.3 614.3 770.1 613.9C773 613.6 776.3 613.4 779.1 613.4C781.9 613.5 784.4 613.8 787.1 614.4C789.7 615.1 792.9 616.3 795.1 617.4C797.2 618.6 798.9 620.2 800 621.4C801.2 622.6 801.7 623.9 802 624.4L802 644.3L800 645.3L793.1 651.8L781.1 654.3L765.7 653.8L755.7 650.8L749 643.8L749.2 623.9Z"/>
<path class="l" d="M749.2 628.9L756.2 636.1L766.2 638.8L781.1 639.3L793.1 636.9L800 630.4L802 624.9"/>
<path class="l" d="M750.2 629.4L750.7 644.8M755.7 636.1L755.7 650.8M756.5 636.3L756.5 651M765.7 638.8L765.7 653.8M766.8 638.9L766.8 654M781.1 639.3L781.1 654.3M782.2 639.2L782.2 654.1M793.1 636.9L793.3 651.8M799.2 630.9L799.2 645.8M800 630.4L800.2 645.3"/>
<ellipse class="wm" cx="775.4" cy="624.7" rx="18.1" ry="9.3"/>
<path class="m" d="M759.2 620.4C760.2 619.7 762.5 617.3 765.2 616.4C767.9 615.5 771.9 614.9 775.4 614.9C778.9 614.9 783.4 615.5 786.1 616.4C788.8 617.3 790.7 619.7 791.6 620.4"/>
<path class="k" d="M707.9 628.7C708.1 632.4 708.7 646 709.3 650.7C710 655.3 710.6 655.2 711.8 656.6C713.1 658.1 716 658.7 716.8 659.1C717.5 658.6 719.5 657.1 720.8 655.6C722.1 654.2 724.1 651.5 724.8 650.7L724.8 631.7L707.9 628.7Z" style="fill:#fff"/>
<path class="h" d="M708 628.7C708.2 630.6 708.6 636 708.8 639.7C709.1 643.4 709.2 648.1 709.5 650.7C709.9 653.2 710.2 654 710.8 655.1C711.5 656.3 712.3 657 713.3 657.6C714.4 658.3 716.7 658.6 717.3 658.8" style="stroke-width:3.6"/>
<path class="h" d="M724 631.7L724 650.9" style="stroke-width:3.8"/>
<path class="l" d="M717.3 658.8C717.9 658.3 719.6 657 720.8 655.6C722 654.3 723.7 651.7 724.3 650.9"/>
<path class="wh" d="M687.1 596C687.7 595.3 688 594.3 690 594C692 593.7 695.9 594 699.1 594.2C702.3 594.4 707 594.5 709.1 595C711.3 595.6 711.2 596.2 712.1 597.4C713.1 598.5 713.8 600.5 715 601.9C716.1 603.3 717.5 604.5 719.1 605.7C720.8 606.9 723.6 607.9 725 609C726.3 610.2 726.7 611 727.1 612.7C727.5 614.4 726.9 617.8 727.5 619.4C728.1 621 730 621.3 730.8 622.4C731.6 623.4 732.3 624.6 732.1 625.7C732 626.8 731.2 628.2 730 629C728.8 629.9 726.8 630.5 725 630.7C723.2 630.9 721.1 630.6 719.1 630.2C717.2 629.8 715.4 629 713.3 628.2C711.2 627.5 709 627 706.6 625.7C704.3 624.5 701.5 622.4 699.1 620.7C696.8 619 694.4 617.5 692.5 615.7C690.6 614 688.8 612.1 687.8 610.2C686.8 608.3 686.9 606.3 686.6 604.4C686.4 602.4 686.4 599.9 686.5 598.5C686.6 597.1 686.5 596.8 687.1 596Z"/>
<path class="t" d="M689.5 598.5C690.2 599.6 691.7 603 694.1 605.2C696.6 607.4 700.8 610.1 704.1 611.9C707.5 613.7 711.4 615.3 714.1 616C716.9 616.8 718.9 616.9 720.8 616.5C722.7 616.2 724.7 614.5 725.5 614"/>
<path class="t" d="M717.5 627.4C718.6 627.4 722.2 627.7 724.1 627.4C726.1 627 728.3 625.6 729.1 625.2"/>
<path class="t" d="M692.8 607.4L693.3 613M696.6 609.7L697 616.9M700.5 611.9L700.8 619.4"/>
</g>
<path class="k" d="M687.8 572.7C692.1 572.2 705.2 569.9 713.7 569.8C722.1 569.8 730.3 570.5 738.7 572.2C747 573.8 755.6 576.9 763.7 579.7C771.7 582.4 783.1 587.2 787 588.7L773 594.7C770.6 593.5 764.4 589.8 758.7 587.7C752.9 585.6 746.2 583.5 738.7 582C731.2 580.5 721.2 578.9 713.7 578.7C706.2 578.4 697 580.3 693.7 580.7L695.3 583L671.5 580.7L685.3 568.5L687.8 572.7Z"/>
<path class="l" d="M674.5 583L716.2 611.8" style="stroke-dasharray:8 2 2 2;stroke-width:1.1;stroke-linecap:butt"/>
<path class="l" d="M716.2 611.8L772 593" style="stroke-dasharray:8 2 2 2;stroke-width:1.1;stroke-linecap:butt"/>
<path class="l" d="M648 606.8L687 606.8"/>

<!-- 23.svg -->
<clipPath id="c23"><rect x="868" y="420" width="259.70000000000005" height="297.5"/></clipPath>
<g clip-path="url(#c23)">
<path class="l" d="M1013.7 576.2L1153.3 511.8"/>
<path class="l" d="M968.3 602.5C965.8 604.9 957.4 611.2 953.3 616.7C949.3 622.1 946 630.7 944.2 635C942.4 639.3 942.2 640.3 942.5 642.5C942.8 644.7 944 646.2 945.8 648.3C947.6 650.4 949.9 652.2 953.3 655C956.8 657.8 964.4 663.3 966.7 665L1073.3 733.8"/>
<path class="l" d="M968.3 605C966.7 606.7 960.9 611.7 958.3 615C955.8 618.3 953.6 621.9 953 625C952.4 628.1 953.6 631 955 633.3C956.4 635.7 959.2 637.4 961.7 639.2C964.2 641 968.6 643.3 970 644.2"/>
<path class="l" d="M986.7 655.8L1048.7 695.5"/>
<path class="l" d="M1056.3 669.3L1145 739.4"/>
<path class="l" d="M1080.3 647.7L1153.3 689.5"/>
<path class="l" d="M1078.3 640.7L1153.3 669.6"/>
<path class="t" d="M968.3 667.7C968.6 670.2 968.9 677.1 970 682.7C971.1 688.2 973.7 696.8 974.7 701C975.6 705.2 975.5 703.8 975.8 707.7C976.2 711.6 976.5 721.6 976.7 724.3"/>
<path class="t" d="M975.5 678.5L977.7 724.3"/>
<path class="t" d="M987 683.5L989.3 724.3"/>
<path class="l" d="M1139.7 555.5L1088.2 576.2C1087.8 576.5 1086.4 577.3 1086 577.9C1085.7 578.5 1085.5 579 1085.9 579.7C1086.3 580.4 1086.3 581 1088.2 582.2C1090.1 583.3 1093.4 584.9 1097.3 586.4C1101.2 587.9 1106.4 589.8 1111.4 591C1116.5 592.2 1123 593 1127.7 593.7C1132.4 594.3 1137.7 594.7 1139.7 594.9"/>
<path class="l" d="M1139.7 599.8C1137.7 599.4 1132.4 598.4 1127.7 597.5C1123 596.5 1116.5 595.5 1111.4 594.3C1106.4 593.1 1101.9 591.9 1097.3 590.4C1092.8 588.9 1086.5 586.1 1084.3 585.2A2.18 2.18 0 0 0 1082.3 589.1C1084.8 590.1 1092.5 593.5 1097.3 595.2C1102.2 596.9 1106.4 597.9 1111.4 599.1C1116.5 600.3 1123 601.4 1127.7 602.4C1132.4 603.4 1137.7 604.4 1139.7 604.9"/>
<path class="l" d="M1139.7 607.4C1137.7 607 1132.4 606 1127.7 605.1C1123 604.2 1116.5 603.1 1111.4 601.9C1106.4 600.7 1102.7 600 1097.3 598C1092 596.1 1082.3 591.6 1079.3 590.3A2.37 2.37 0 0 0 1077.2 594.5C1080.6 595.9 1091.6 600.9 1097.3 603C1103 605 1106.4 605.7 1111.4 606.9C1116.5 608.1 1123 609.2 1127.7 610.2C1132.4 611.1 1137.7 612.2 1139.7 612.6"/>
<path class="l" d="M1139.7 615.5C1137.7 615.2 1132.4 614.1 1127.7 613.2C1123 612.3 1116.5 611.2 1111.4 610C1106.4 608.8 1103.4 608.1 1097.3 605.9C1091.3 603.8 1078.8 598.6 1075.1 597.2A2.27 2.27 0 0 0 1073.0 601.2C1077 602.9 1090.9 608.8 1097.3 611.1C1103.7 613.4 1106.4 613.7 1111.4 615C1116.5 616.2 1123 617.5 1127.7 618.5C1132.4 619.5 1137.7 620.7 1139.7 621.1"/>
<path class="l" d="M1070.9 604.2C1073.6 605.2 1080 608.8 1084.6 610.7C1089.3 612.6 1096 614.5 1098.7 615.5C1101.5 616.6 1100.6 616.4 1101 617.1C1101.3 617.8 1101.3 618.9 1100.9 619.6C1100.4 620.2 1099.3 620.6 1098.4 620.7C1097.4 620.9 1098 621.5 1095.2 620.6C1092.4 619.7 1086.2 617.2 1081.8 615.3C1077.5 613.4 1071.5 610.7 1069.1 609.3C1066.7 607.9 1067.7 607.6 1067.6 606.9C1067.4 606.1 1067.9 605.2 1068.4 604.7C1069 604.3 1068.2 603.2 1070.9 604.2Z"/>
<path class="l" d="M1139.7 624.1C1137.7 623.7 1131.4 622.4 1127.7 621.7C1123.9 620.9 1120.4 620.3 1117.1 619.6C1113.7 618.8 1109.1 617.8 1107.6 617.4A3.01 3.01 0 0 0 1106.1 623.3C1108 623.7 1113.5 624.8 1117.1 625.5C1120.7 626.3 1123.9 626.9 1127.7 627.7C1131.4 628.4 1137.7 629.7 1139.7 630.1"/>
<path class="l" d="M1139.7 633.2C1137.7 632.8 1131.4 631.6 1127.7 630.8C1123.9 630.1 1120.6 629.5 1117.1 628.7C1113.6 628 1108.3 626.8 1106.5 626.4A3.11 3.11 0 0 0 1104.4 632.2C1106.5 632.7 1113.2 634 1117.1 634.7C1121 635.5 1123.9 636.1 1127.7 636.8C1131.4 637.6 1137.7 638.8 1139.7 639.2"/>
<path class="l" d="M1139.7 644.4C1137.6 643.9 1131.9 642.7 1127.5 641.8C1123.2 640.9 1118.1 640 1113.6 639C1109 637.9 1102.3 636.2 1100 635.6A3.75 3.75 0 0 0 1097.5 642.7C1100.1 643.3 1108.5 645.3 1113.6 646.4C1118.6 647.5 1123.2 648.4 1127.5 649.3C1131.9 650.2 1137.6 651.5 1139.7 651.9"/>
<path class="l" d="M1083.9 619.6C1085.6 619.8 1090.1 621.5 1091.7 622.4C1093.3 623.2 1093.5 623.6 1093.7 624.5C1093.8 625.4 1093.3 627 1092.7 627.7C1092.2 628.4 1092 629.1 1090.3 628.7C1088.5 628.4 1083.8 626.4 1082.2 625.5C1080.5 624.7 1080.5 624.3 1080.4 623.4C1080.3 622.6 1080.9 621.3 1081.5 620.6C1082 620 1082.2 619.3 1083.9 619.6Z"/>
<ellipse class="l" cx="1089" cy="634.7" rx="3.9" ry="3.4" transform="rotate(-20 1089 634.7)"/>
<path class="l" d="M1058.3 561C1059.1 562.2 1062 565.9 1063 568.5C1064 571.1 1064.4 574.2 1064.3 576.8C1064.2 579.5 1062.8 583.1 1062.5 584.3"/>
<path class="l" d="M1065 553.5C1066 554.5 1069.2 556.7 1070.8 559.3C1072.4 562 1074.1 566 1074.7 569.3C1075.2 572.7 1075.2 575.7 1074.2 579.3C1073.1 582.9 1071 587.7 1068.3 591C1065.7 594.3 1062.2 596.9 1058.3 599.3C1054.4 601.7 1048.8 604.5 1045 605.3C1041.2 606.2 1037.4 604.5 1035.8 604.3"/>
<path class="l" d="M996.7 584.7C995.8 585.3 992.7 587.6 991.7 588.5C990.6 589.4 990.6 589.6 990.3 589.8L1025.8 611.8"/>
<path class="l" d="M1002.5 585.7L1035.8 604.3"/>
<path class="l" d="M1001.7 582.2L1005.8 580.2"/>
<path class="l" d="M1007.5 584.7C1007.4 583.6 1007.1 582.8 1010 582.3C1012.9 581.9 1019.2 581.2 1025 581.8C1030.8 582.4 1039.3 584.7 1045 586C1050.7 587.3 1056.7 588.6 1059.2 589.7C1061.7 590.8 1060.7 591.6 1060 592.7C1059.3 593.7 1057.5 595.3 1055 596C1052.5 596.7 1050 597.3 1045 596.8C1040 596.3 1030.7 594.3 1025 593C1019.3 591.7 1013.8 590.2 1010.8 588.8C1007.9 587.4 1007.6 585.8 1007.5 584.7Z"/>
<path class="l" d="M1011.7 584.7C1012.2 584.6 1012.8 584 1015 584C1017.2 584 1023.3 584.6 1025 584.7"/>
<path class="l" d="M994.2 570.7L1045 596.8"/>
<path class="l" d="M999.2 569.7L1048.3 594.7"/>
<ellipse class="w" cx="982.5" cy="645.5" rx="11.3" ry="19.2" transform="rotate(16 982.5 645.5)"/>
<path class="l" d="M973 651.8C973.9 651.7 976.3 651.1 978.3 651C980.3 650.9 983.6 650.8 985 651.3C986.4 651.9 986.4 653.8 986.7 654.3"/>
<path class="l" d="M974.7 652.3L975 662.7"/>
<path class="l" d="M973 651.8L976.7 656L974.7 657.7"/>
<path class="w" d="M1043.8 613.1C1045.5 613.1 1050.5 612.6 1053.8 612.9C1057.1 613.3 1060.8 614.1 1063.7 615.4C1066.7 616.8 1069.6 618.7 1071.7 620.9C1073.9 623.2 1075.5 626.1 1076.7 628.9C1077.9 631.7 1078.5 634.9 1078.7 637.9C1078.9 640.8 1078.5 644 1077.7 646.8C1076.9 649.6 1075.7 652.5 1073.7 654.8C1071.7 657.1 1069.1 658.9 1065.7 660.8C1062.4 662.7 1057.8 664.7 1053.8 666.3C1049.8 667.8 1045.5 669.2 1041.8 670.2C1038.2 671.3 1033.5 672.1 1031.9 672.4C1031.2 672.7 1029.5 673.8 1027.9 674.2C1026.2 674.6 1024 675 1021.9 674.7C1019.7 674.5 1016.9 674.1 1014.9 672.7C1012.9 671.4 1011 669.1 1009.9 666.7C1008.9 664.4 1008.4 661.4 1008.4 658.8C1008.4 656.1 1009 653.2 1009.9 650.8C1010.8 648.4 1013.3 645.4 1013.9 644.3"/>
<path class="l" d="M1009.4 628.4L1002.5 633.9C1002.5 635.2 1002.4 638.7 1003 641.8C1003.5 645 1005 650 1005.9 652.8C1006.9 655.6 1008 657.8 1008.4 658.8"/>
<path class="l" d="M1067.2 634.9C1068.1 635.7 1071.4 637.9 1072.7 639.8C1074 641.8 1074.9 644.5 1075.2 646.8C1075.5 649.1 1074.8 652.6 1074.7 653.8"/>
<path class="l" d="M1015.4 648.8C1016.2 649.8 1017.5 652.9 1019.9 654.8C1022.3 656.7 1026.5 659.1 1029.9 660.3C1033.2 661.4 1036.5 661.6 1039.8 661.6C1043.1 661.6 1046.5 661.2 1049.8 660.3C1053.1 659.3 1057.4 657.4 1059.8 655.8C1062.1 654.2 1063 652.3 1063.7 650.8C1064.5 649.3 1064.2 647.5 1064.2 646.8"/>
<path class="l" d="M1016.1 653.3C1017.2 654.2 1020.3 657.2 1022.9 658.8C1025.4 660.4 1029.9 662.1 1031.4 662.8C1033.1 663 1038.1 664.1 1041.8 664C1045.6 663.8 1050.1 663.2 1053.8 662C1057.4 660.8 1061.6 658.6 1063.7 656.8C1065.9 654.9 1066.2 652.5 1066.5 650.8C1066.9 649.1 1065.9 647.5 1065.7 646.8"/>
<path class="l" d="M1014.9 645.8L1014.9 671.7"/>
<path class="l" d="M1031.4 662.8L1031.9 672.4"/>
<path class="w" d="M1013.9 623.9C1014.1 623.6 1013.9 623.3 1014.9 622.4C1015.9 621.5 1017.9 619.6 1019.9 618.4C1021.9 617.3 1024.4 616.2 1026.9 615.4C1029.4 614.7 1032 614.3 1034.8 613.9C1037.7 613.6 1041 613.4 1043.8 613.4C1046.6 613.5 1049.1 613.8 1051.8 614.4C1054.4 615.1 1057.6 616.3 1059.8 617.4C1061.9 618.6 1063.6 620.2 1064.7 621.4C1065.9 622.6 1066.4 623.9 1066.7 624.4L1066.7 644.3L1064.7 645.3L1057.8 651.8L1045.8 654.3L1030.4 653.8L1020.4 650.8L1013.7 643.8L1013.9 623.9Z"/>
<path class="l" d="M1013.9 628.9L1020.9 636.1L1030.9 638.8L1045.8 639.3L1057.8 636.9L1064.7 630.4L1066.7 624.9"/>
<path class="l" d="M1014.9 629.4L1015.4 644.8M1020.4 636.1L1020.4 650.8M1021.2 636.3L1021.2 651M1030.4 638.8L1030.4 653.8M1031.5 638.9L1031.5 654M1045.8 639.3L1045.8 654.3M1046.9 639.2L1046.9 654.1M1057.8 636.9L1058 651.8M1063.9 630.9L1063.9 645.8M1064.7 630.4L1064.9 645.3"/>
<ellipse class="wm" cx="1040.1" cy="624.7" rx="18.1" ry="9.3"/>
<path class="m" d="M1023.9 620.4C1024.9 619.7 1027.2 617.3 1029.9 616.4C1032.6 615.5 1036.6 614.9 1040.1 614.9C1043.6 614.9 1048.1 615.5 1050.8 616.4C1053.5 617.3 1055.4 619.7 1056.3 620.4"/>
</g>
<path class="k" d="M977.5 560.7L992.0 580.5L985.5 582.7L986.2 619.3L971.3 624.7L970.3 587.3L963.0 590.2Z"/>
<path class="k" d="M967.5 485.4C967.8 490.1 968.7 508.8 969.2 514C969.7 519.2 970 515.8 970.4 516.5C970.7 517.2 971.1 517.9 971.2 518.2L971.2 546.5C971.6 547.2 972.3 549.5 973.4 550.4C974.5 551.2 976.4 551.7 977.9 551.7C979.3 551.7 981.1 551.2 982.2 550.4C983.3 549.5 984 547.2 984.4 546.5L984.4 517.7C984.7 517.1 986 519.2 986.4 514.4C986.8 509.5 986.8 493 986.9 488.7L967.5 485.4Z"/>
<path class="k" d="M972.9 487.7L973.7 514C974.3 514.3 976.1 515.7 977.5 515.7C978.9 515.7 981.4 514.3 982.2 514L982.5 489.9L972.9 487.7Z" style="fill:#fff"/>
<path class="k" d="M975 520.4C975.4 520.2 976.6 519.5 977.5 519.5C978.4 519.5 980 520.2 980.5 520.4L980.5 546C980.1 546.3 978.8 547.4 977.9 547.4C976.9 547.4 975.2 546.3 974.7 546L975 520.4Z" style="fill:#fff"/>
<path class="k" d="M967.2 524.9L968.7 523.7L971.7 523.7L971.7 536.5L968.7 536.5L967.2 535.4Z"/>
<path class="wh" d="M948 454C948.6 453.3 948.9 452.3 950.9 452C952.9 451.7 956.8 452 960 452.2C963.2 452.4 967.9 452.5 970 453C972.2 453.6 972.1 454.2 973 455.4C974 456.5 974.7 458.5 975.9 459.9C977 461.3 978.4 462.5 980 463.7C981.7 464.9 984.5 465.9 985.9 467C987.2 468.2 987.6 469 988 470.7C988.4 472.4 987.8 475.8 988.4 477.4C989 479 990.9 479.3 991.7 480.4C992.5 481.4 993.2 482.6 993 483.7C992.9 484.8 992.1 486.2 990.9 487C989.7 487.9 987.7 488.5 985.9 488.7C984.1 488.9 982 488.6 980 488.2C978.1 487.8 976.3 486.9 974.2 486.2C972.1 485.4 969.9 484.9 967.5 483.7C965.2 482.4 962.4 480.4 960 478.7C957.7 477 955.3 475.4 953.4 473.7C951.5 471.9 949.7 470.1 948.7 468.2C947.7 466.3 947.8 464.3 947.5 462.4C947.3 460.4 947.3 457.9 947.4 456.5C947.5 455.1 947.4 454.8 948 454Z"/>
<path class="t" d="M950.4 456.5C951.1 457.6 952.6 461 955 463.2C957.5 465.4 961.7 468.1 965 469.9C968.4 471.7 972.3 473.3 975 474C977.8 474.8 979.8 474.9 981.7 474.5C983.6 474.2 985.6 472.4 986.4 472"/>
<path class="t" d="M978.4 485.4C979.5 485.4 983.1 485.7 985 485.4C987 485 989.2 483.6 990 483.2"/>
<path class="t" d="M953.7 465.4L954.2 471M957.5 467.7L957.9 474.9M961.4 469.9L961.7 477.4"/>
<path class="l" d="M985 531L1025.4 507.4"/>

<!-- 31.svg -->
<path d="M182.8 942C182.9 943.9 183.4 949.8 183.5 953.3C183.6 956.9 183.6 960 183.3 963.3C183.1 966.7 182.8 970.1 182 973.3C181.2 976.5 180.3 979.6 178.7 982.5C177.1 985.4 174.6 988.8 172.5 990.8C170.4 992.9 168.2 993.8 165.8 994.7C163.5 995.5 162.1 996.1 158.3 995.8C154.6 995.6 149.7 994.6 143.3 993.3C136.9 992.1 126.7 989.7 120 988.3C113.3 986.9 108.5 985.7 103.3 985C98.1 984.3 91.2 984.3 88.8 984.2" fill="none" stroke="#000" stroke-width="5.8"/>
<path d="M182.8 942C182.9 943.9 183.4 949.8 183.5 953.3C183.6 956.9 183.6 960 183.3 963.3C183.1 966.7 182.8 970.1 182 973.3C181.2 976.5 180.3 979.6 178.7 982.5C177.1 985.4 174.6 988.8 172.5 990.8C170.4 992.9 168.2 993.8 165.8 994.7C163.5 995.5 162.1 996.1 158.3 995.8C154.6 995.6 149.7 994.6 143.3 993.3C136.9 992.1 126.7 989.7 120 988.3C113.3 986.9 108.5 985.7 103.3 985C98.1 984.3 91.2 984.3 88.8 984.2" fill="none" stroke="#fff" stroke-width="2.1" stroke-linecap="square"/>
<path class="g" d="M179.2 990.3L203.8 1004.7"/>
<path class="k" d="M164.5 912.2L180 912.2C180.8 912.4 183.8 912.8 185 913.8C186.2 914.9 187 916.8 187.5 918.3C188 919.9 187.8 922.5 187.8 923.3L187.8 935L185.8 942L180 942L178.3 935L178.3 926.7L164.5 926.7L164.5 912.2Z"/>
<path class="k" d="M164.7 881.0L205.8 881.0L205.8 871.7L230.0 891.3L205.8 911.2L205.8 901.7L164.7 901.7Z" stroke="#000" stroke-width="1" stroke-linejoin="round"/>
<path class="h" d="M89.5 863.3L89.5 875.8" style="stroke-width:2.2"/>
<path class="h" d="M98.3 863.3L98.3 874.2" style="stroke-width:2.2"/>
<path class="h" d="M107 863.3L107 875" style="stroke-width:2.0"/>
<path class="h" d="M88 876.2L108 876.2" style="stroke-width:6.2;stroke-linecap:butt"/>
<path class="h" d="M105.3 876.2L105.3 908.7" style="stroke-width:6.0"/>
<path class="h" d="M113 863.3L113 873.7" style="stroke-width:2.0"/>
<path class="h" d="M117.5 863.3L117.5 873.7" style="stroke-width:2.0"/>
<path class="h" d="M115.2 873.7L115.2 905.3" style="stroke-width:6.4"/>
<path class="h" d="M117.5 873.8L128.3 873.8" style="stroke-width:2.2"/>
<path class="h" d="M117.5 882.8L128.3 882.8" style="stroke-width:2.2"/>
<path class="h" d="M117.5 891.7L128.3 891.7" style="stroke-width:2.2"/>
<path class="h" d="M118.3 871.7L126.2 865.3" style="stroke-width:2.2"/>
<path class="h" d="M89.5 975.8L89.5 963.3" style="stroke-width:2.2"/>
<path class="h" d="M98.3 975.8L98.3 965.3" style="stroke-width:2.2"/>
<path class="h" d="M107 975.8L107 964.2" style="stroke-width:2.0"/>
<path class="h" d="M88 963L108 963" style="stroke-width:6.2;stroke-linecap:butt"/>
<path class="h" d="M105.3 963L105.3 930.3" style="stroke-width:6.0"/>
<path class="h" d="M113 975.8L113 965.8" style="stroke-width:2.0"/>
<path class="h" d="M117.5 975.8L117.5 965.8" style="stroke-width:2.0"/>
<path class="h" d="M115.2 965.8L115.2 933.7" style="stroke-width:6.4"/>
<path class="h" d="M117.5 947.2L128.3 947.2" style="stroke-width:2.2"/>
<path class="h" d="M117.5 956.2L128.3 956.2" style="stroke-width:2.2"/>
<path class="h" d="M117.5 965L128.3 965" style="stroke-width:2.2"/>
<path class="h" d="M118.3 967.5L126.2 973.8" style="stroke-width:2.2"/>
<path class="k" d="M106.7 919.2L109.7 918.0L109.7 921.3Z"/>
<rect class="wh" x="110.0" y="914.2" width="10.0" height="11.2" style="stroke-width:2.1"/>
<path class="m" d="M113.7 916.3L112.3 923.7M115.7 916L114.3 924M117.7 916L116.3 924M119.5 916.3L118.3 923.7"/>
<rect class="wh" x="134.5" y="914.7" width="13.0" height="10.0" style="stroke-width:2.1"/>
<rect class="wh" x="147.5" y="917.0" width="4.5" height="5.2" style="stroke-width:2.1"/>
<ellipse class="wh" cx="153.8" cy="919.5" rx="2.3" ry="3.3" style="stroke-width:2.1"/>
<rect class="wh" x="120.3" y="910.8" width="8.3" height="17.5" style="stroke-width:2.1"/>
<rect class="wh" x="128.7" y="909.7" width="5.8" height="19.8" style="stroke-width:2.1"/>
<path class="l" d="M128.7 913.8L134.5 913.8"/>
<path class="l" d="M128.7 925.5L134.5 925.5"/>
<circle class="k" cx="178.7" cy="857.8" r="13.0"/>

<!-- 32.svg -->
<clipPath id="c32"><rect x="270" y="768" width="264.70000000000005" height="290.70000000000005"/></clipPath>
<g clip-path="url(#c32)">
<path class="l" d="M417.2 917.2L556.8 852.8"/>
<path class="l" d="M356 959.5L350.2 971.2"/>
<path class="l" d="M353.5 963.7L356 971.2"/>
<path class="l" d="M346.8 978.3C347 979.5 347 983 348 985.3C349 987.7 348.7 988.7 352.7 992.3C356.6 996 368.5 1004.8 371.7 1007.3L476.2 1074.8"/>
<path class="l" d="M362.7 979.5L374.7 986.8"/>
<path class="l" d="M390.2 996.8L452.2 1036.5"/>
<path class="l" d="M459.8 1010.3L548.5 1080.4"/>
<path class="l" d="M483.8 988.7L556.8 1030.5"/>
<path class="l" d="M481.8 981.7L556.8 1010.6"/>
<path class="t" d="M371.8 1008.7C372.1 1011.2 372.4 1018.1 373.5 1023.7C374.6 1029.2 377.2 1037.8 378.2 1042C379.1 1046.2 379 1044.8 379.3 1048.7C379.7 1052.6 380 1062.6 380.2 1065.3"/>
<path class="t" d="M379 1019.5L381.2 1065.3"/>
<path class="t" d="M390.5 1024.5L392.8 1065.3"/>
<path class="l" d="M543.2 896.5L491.7 917.2C491.3 917.5 489.9 918.3 489.5 918.9C489.2 919.5 489 920 489.4 920.7C489.8 921.4 489.8 922 491.7 923.2C493.6 924.3 496.9 925.9 500.8 927.4C504.7 928.9 509.9 930.8 514.9 932C520 933.2 526.5 934 531.2 934.7C535.9 935.3 541.2 935.7 543.2 935.9"/>
<path class="l" d="M543.2 940.8C541.2 940.4 535.9 939.4 531.2 938.5C526.5 937.5 520 936.5 514.9 935.3C509.9 934.1 505.4 932.9 500.8 931.4C496.3 929.9 490 927.1 487.8 926.2A2.18 2.18 0 0 0 485.8 930.1C488.3 931.1 496 934.5 500.8 936.2C505.7 937.9 509.9 938.9 514.9 940.1C520 941.3 526.5 942.4 531.2 943.4C535.9 944.4 541.2 945.4 543.2 945.9"/>
<path class="l" d="M543.2 948.4C541.2 948 535.9 947 531.2 946.1C526.5 945.2 520 944.1 514.9 942.9C509.9 941.7 506.2 941 500.8 939C495.5 937.1 485.8 932.6 482.8 931.3A2.37 2.37 0 0 0 480.7 935.5C484.1 936.9 495.1 941.9 500.8 944C506.5 946 509.9 946.7 514.9 947.9C520 949.1 526.5 950.2 531.2 951.2C535.9 952.1 541.2 953.2 543.2 953.6"/>
<path class="l" d="M543.2 956.5C541.2 956.2 535.9 955.1 531.2 954.2C526.5 953.3 520 952.2 514.9 951C509.9 949.8 506.9 949.1 500.8 946.9C494.8 944.8 482.3 939.6 478.6 938.2A2.27 2.27 0 0 0 476.5 942.2C480.5 943.9 494.4 949.8 500.8 952.1C507.2 954.4 509.9 954.7 514.9 956C520 957.2 526.5 958.5 531.2 959.5C535.9 960.5 541.2 961.7 543.2 962.1"/>
<path class="l" d="M474.4 945.2C477.1 946.2 483.5 949.8 488.1 951.7C492.8 953.6 499.5 955.5 502.2 956.5C505 957.6 504.1 957.4 504.5 958.1C504.8 958.8 504.8 959.9 504.4 960.6C503.9 961.2 502.8 961.6 501.9 961.7C500.9 961.9 501.5 962.5 498.7 961.6C495.9 960.7 489.7 958.2 485.3 956.3C481 954.4 475 951.7 472.6 950.3C470.2 948.9 471.2 948.6 471.1 947.9C470.9 947.1 471.4 946.2 471.9 945.7C472.5 945.3 471.7 944.2 474.4 945.2Z"/>
<path class="l" d="M543.2 965.1C541.2 964.7 534.9 963.4 531.2 962.7C527.4 961.9 523.9 961.3 520.6 960.6C517.2 959.8 512.6 958.8 511.1 958.4A3.01 3.01 0 0 0 509.6 964.3C511.5 964.7 517 965.8 520.6 966.5C524.2 967.3 527.4 967.9 531.2 968.7C534.9 969.4 541.2 970.7 543.2 971.1"/>
<path class="l" d="M543.2 974.2C541.2 973.8 534.9 972.6 531.2 971.8C527.4 971.1 524.1 970.5 520.6 969.7C517.1 969 511.8 967.8 510 967.4A3.11 3.11 0 0 0 507.9 973.2C510 973.7 516.7 975 520.6 975.7C524.5 976.5 527.4 977.1 531.2 977.8C534.9 978.6 541.2 979.8 543.2 980.2"/>
<path class="l" d="M543.2 985.4C541.1 984.9 535.4 983.7 531 982.8C526.7 981.9 521.6 981 517.1 980C512.5 978.9 505.8 977.2 503.5 976.6A3.75 3.75 0 0 0 501.0 983.7C503.6 984.3 512 986.3 517.1 987.4C522.1 988.5 526.7 989.4 531 990.3C535.4 991.2 541.1 992.5 543.2 992.9"/>
<path class="l" d="M487.4 960.6C489.1 960.8 493.6 962.5 495.2 963.4C496.8 964.2 497 964.6 497.2 965.5C497.3 966.4 496.8 968 496.2 968.7C495.7 969.4 495.5 970.1 493.8 969.7C492 969.4 487.3 967.4 485.7 966.5C484 965.7 484 965.3 483.9 964.4C483.8 963.6 484.4 962.3 485 961.6C485.5 961 485.7 960.3 487.4 960.6Z"/>
<ellipse class="l" cx="492.5" cy="975.7" rx="3.9" ry="3.4" transform="rotate(-20 492.5 975.7)"/>
<path class="l" d="M461.8 902C462.6 903.2 465.5 906.9 466.5 909.5C467.5 912.1 467.9 915.2 467.8 917.8C467.7 920.5 466.3 924.1 466 925.3"/>
<path class="l" d="M468.5 894.5C469.5 895.5 472.7 897.7 474.3 900.3C475.9 903 477.6 907 478.2 910.3C478.7 913.7 478.7 916.7 477.7 920.3C476.6 923.9 474.5 928.7 471.8 932C469.2 935.3 465.2 938.1 461.8 940.3C458.5 942.6 454.4 944.2 451.8 945.3C449.2 946.4 448.1 946.7 446.2 946.8C444.3 946.9 441.3 946.1 440.3 946"/>
<path class="l" d="M448.7 926.8C450.8 927.2 458.5 928.4 461.2 929.3C463.8 930.3 464.8 931.4 464.5 932.7C464.2 933.9 461.9 935.9 459.5 936.8C457.1 937.8 451.9 938.2 450.3 938.5"/>
<path class="l" d="M450.5 930.3C451.6 930.5 455.2 930.8 456.8 931.3C458.5 931.8 459.9 933 460.5 933.3"/>
<path class="l" d="M426.2 951L430.3 954"/>
<ellipse class="w" cx="386" cy="986.5" rx="11.3" ry="19.2" transform="rotate(16 386 986.5)"/>
<path class="w" d="M447.3 954.1C449 954.1 454 953.6 457.3 953.9C460.6 954.3 464.3 955.1 467.2 956.4C470.2 957.8 473.1 959.7 475.2 961.9C477.4 964.2 479 967.1 480.2 969.9C481.4 972.7 482 975.9 482.2 978.9C482.4 981.8 482 985 481.2 987.8C480.4 990.6 479.2 993.5 477.2 995.8C475.2 998.1 472.6 999.9 469.2 1001.8C465.9 1003.7 461.3 1005.7 457.3 1007.3C453.3 1008.8 449 1010.2 445.3 1011.2C441.7 1012.3 437 1013.1 435.4 1013.4C434.7 1013.7 433 1014.8 431.4 1015.2C429.7 1015.6 427.5 1016 425.4 1015.7C423.2 1015.5 420.4 1015.1 418.4 1013.7C416.4 1012.4 414.5 1010.1 413.4 1007.7C412.4 1005.4 411.9 1002.4 411.9 999.8C411.9 997.1 412.5 994.2 413.4 991.8C414.3 989.4 416.8 986.4 417.4 985.3"/>
<path class="l" d="M412.9 969.4L406 974.9C406 976.2 405.9 979.7 406.5 982.8C407 986 408.5 991 409.4 993.8C410.4 996.6 411.5 998.8 411.9 999.8"/>
<path class="l" d="M470.7 975.9C471.6 976.7 474.9 978.9 476.2 980.8C477.5 982.8 478.4 985.5 478.7 987.8C479 990.1 478.3 993.6 478.2 994.8"/>
<path class="l" d="M418.9 989.8C419.7 990.8 421 993.9 423.4 995.8C425.8 997.7 430 1000.1 433.4 1001.3C436.7 1002.4 440 1002.6 443.3 1002.6C446.6 1002.6 450 1002.2 453.3 1001.3C456.6 1000.3 460.9 998.4 463.3 996.8C465.6 995.2 466.5 993.3 467.2 991.8C468 990.3 467.7 988.5 467.7 987.8"/>
<path class="l" d="M419.6 994.3C420.7 995.2 423.8 998.2 426.4 999.8C428.9 1001.4 433.4 1003.1 434.9 1003.8C436.6 1004 441.6 1005.1 445.3 1005C449.1 1004.8 453.6 1004.2 457.3 1003C460.9 1001.8 465.1 999.6 467.2 997.8C469.4 995.9 469.7 993.5 470 991.8C470.4 990.1 469.4 988.5 469.2 987.8"/>
<path class="l" d="M418.4 986.8L418.4 1012.7"/>
<path class="l" d="M434.9 1003.8L435.4 1013.4"/>
<path class="w" d="M417.4 964.9C417.6 964.6 417.4 964.3 418.4 963.4C419.4 962.5 421.4 960.6 423.4 959.4C425.4 958.3 427.9 957.2 430.4 956.4C432.9 955.7 435.5 955.3 438.3 954.9C441.2 954.6 444.5 954.4 447.3 954.4C450.1 954.5 452.6 954.8 455.3 955.4C457.9 956.1 461.1 957.3 463.3 958.4C465.4 959.6 467.1 961.2 468.2 962.4C469.4 963.6 469.9 964.9 470.2 965.4L470.2 985.3L468.2 986.3L461.3 992.8L449.3 995.3L433.9 994.8L423.9 991.8L417.2 984.8L417.4 964.9Z"/>
<path class="l" d="M417.4 969.9L424.4 977.1L434.4 979.8L449.3 980.3L461.3 977.9L468.2 971.4L470.2 965.9"/>
<path class="l" d="M418.4 970.4L418.9 985.8M423.9 977.1L423.9 991.8M424.7 977.3L424.7 992M433.9 979.8L433.9 994.8M435 979.9L435 995M449.3 980.3L449.3 995.3M450.4 980.2L450.4 995.1M461.3 977.9L461.5 992.8M467.4 971.9L467.4 986.8M468.2 971.4L468.4 986.3"/>
<ellipse class="wm" cx="443.6" cy="965.7" rx="18.1" ry="9.3"/>
<path class="m" d="M427.4 961.4C428.4 960.7 430.7 958.3 433.4 957.4C436.1 956.5 440.1 955.9 443.6 955.9C447.1 955.9 451.6 956.5 454.3 957.4C457 958.3 458.9 960.7 459.8 961.4"/>
<path class="k" d="M377.3 979.5C377.5 981.9 378 990.3 378.5 993.5C379 996.7 379 997.2 380.3 998.5C381.6 999.8 385.3 1000.8 386.3 1001.3C387.1 1000.3 389.6 998.4 391.3 995.5C392.9 992.5 395.3 987.1 396.3 983.5C397.3 980 397.1 975.9 397.3 974.4L377.3 979.5Z" style="fill:#fff"/>
<path class="h" d="M377.8 980C377.9 982.3 378.1 990.4 378.5 993.5C378.9 996.6 379 997.2 380.3 998.5C381.6 999.7 385.3 1000.6 386.3 1001" style="stroke-width:3.8"/>
<path class="k" d="M389.1 976.6L397.5 974.2C397.3 975.7 397.2 980.4 396.7 983.5C396.1 986.6 394.5 991.2 394.1 992.7L390.5 993.9C390.3 992.5 389.5 988.4 389.3 985.5C389.1 982.6 389.1 978.1 389.1 976.6Z"/>
<path class="wh" d="M371.3 960.1C372.1 959.2 373.7 957.8 375.3 956.6C377 955.5 379 954.3 381.3 953.1C383.6 951.9 386.6 950.6 389.3 949.5C391.9 948.3 394.6 947.3 397.3 946.5C399.9 945.6 402.6 944.8 405.2 944.2C407.9 943.5 411.3 942.8 413.2 942.7C415.1 942.5 415.9 942.6 416.9 943.2C417.9 943.7 418.8 944.5 419.4 945.9C420 947.3 420.3 949.5 420.5 951.6C420.7 953.8 420.9 956.5 420.7 958.6C420.4 960.7 419.8 962.6 419 964.1C418.1 965.6 417 966.8 415.7 967.6C414.4 968.3 413 968.2 411.2 968.6C409.5 969 407.6 969.2 405.2 969.8C402.9 970.4 399.6 971.2 397.3 972.1C394.9 972.9 393.1 973.9 391.3 974.8C389.4 975.6 388 976.6 386.3 977.4C384.6 978.1 383.1 979 381.3 979.3C379.5 979.7 377.1 979.9 375.3 979.7C373.5 979.6 371.7 979 370.5 978.4C369.4 977.7 368.5 976.6 368.4 975.8C368.2 974.9 369.1 973.8 369.6 973.1C370.1 972.4 371.1 972.7 371.3 971.6C371.6 970.5 371.3 968.2 371.1 966.6C371 965 370.5 963.2 370.5 962.1C370.6 961 370.5 961 371.3 960.1Z"/>
<path class="t" d="M374.1 965.1C375.3 965.2 378.5 966.6 381.3 965.9C384.2 965.2 387.6 962.6 391.3 961.1C394.9 959.7 399.4 958.2 403.2 957.1C407.1 956 412.4 955.1 414.2 954.6"/>
<path class="t" d="M381.8 967.6L382.1 974.6M414 957.6L414.2 965.1"/>
<path class="t" d="M371.3 976.4C372 976.5 374 977.2 375.3 977.4C376.7 977.5 378.7 977.4 379.3 977.4"/>
</g>
<path class="k" d="M332.5 927C336.7 925.8 349.7 921.6 357.5 920.1C365.3 918.6 372.2 918 379.2 918C386.1 917.9 392.5 918.5 399.2 919.6C405.8 920.8 413.2 922.9 419.2 924.8C425.1 926.7 432.4 930.2 435 931.3L440.8 927L443.3 939.8L421.7 937.3L427.2 936.3C425.3 935.5 420.5 933.2 415.8 931.8C411.2 930.4 405.3 928.6 399.2 927.6C393.1 926.6 386.1 925.7 379.2 925.8C372.2 925.9 364.2 927 357.5 928.1C350.8 929.3 342.2 932 339.2 932.8L332.5 927Z"/>
<path class="l" d="M340 932.8L378.3 960.3" style="stroke-dasharray:8 2 2 2;stroke-width:1.1;stroke-linecap:butt"/>
<path class="l" d="M378.3 960.3L439.2 939.8" style="stroke-dasharray:8 2 2 2;stroke-width:1.1;stroke-linecap:butt"/>
<path class="l" d="M320.8 975.3L368.3 975.3"/>
<path class="t" d="M393.3 903.7L415 916.3"/>
<path class="t" d="M390.8 906.3L400 911.7"/>
<circle class="k" cx="381.3" cy="891.7" r="13.0"/>

<!-- 33.svg -->
<clipPath id="c33"><rect x="544" y="768" width="318.79999999999995" height="297"/></clipPath>
<g clip-path="url(#c33)">
<path class="m" d="M810.8 985.6L909.5 1060"/>
<path class="m" d="M801.7 996.5L920.8 1084.1"/>
<path class="m" d="M794.2 1004.5C795.1 1004.9 798.1 1006.4 800 1007.3C801.9 1008.2 804.9 1009.4 805.8 1009.8L916.7 1093.3"/>
<circle class="t" cx="835.8" cy="1013.8" r="5.5" style="fill:#fff"/>
<path d="M671.3 919C670.7 916.9 668.4 910.2 667.5 906.5C666.6 902.7 666 899.7 666.2 896.5C666.4 893.3 667 890.1 668.7 887.3C670.4 884.5 673.5 881.7 676.3 879.6C679.2 877.6 684.2 875.7 685.8 875L743.7 854.5" fill="none" stroke="#000" stroke-width="5.6" stroke-linecap="round" stroke-linejoin="round"/>
<path d="M671.3 919C670.7 916.9 668.4 910.2 667.5 906.5C666.6 902.7 666 899.7 666.2 896.5C666.4 893.3 667 890.1 668.7 887.3C670.4 884.5 673.5 881.7 676.3 879.6C679.2 877.6 684.2 875.7 685.8 875L743.7 854.5" fill="none" stroke="#fff" stroke-width="2.9" stroke-linecap="round" stroke-linejoin="round"/>
<path class="wm" d="M741 924L751 909L750.3 906.5L761.7 914L759.2 915.3L748.3 929.8"/>
<path class="wm" d="M751.7 899.8C753 899.3 755.8 898.5 758.3 899.5C760.8 900.4 764.9 903.6 766.7 905.6C768.4 907.6 768.9 910 768.7 911.5C768.4 912.9 767.1 914.2 765.3 914.3C763.6 914.4 760.6 913.2 758.3 911.8C756.1 910.4 753 907.6 751.7 906C750.4 904.4 750.5 903.3 750.5 902.3C750.5 901.3 750.4 900.3 751.7 899.8Z"/>
<path class="l" d="M754.3 909L752.8 913.1M756.8 910.6L755.3 915.1M759.3 912.3L758 916.5"/>
<path class="k" d="M700.8 952.3C699.3 953.8 695.1 958.4 691.7 961.5C688.2 964.5 683.3 967.7 680 970.6C676.7 973.5 673.7 976 671.7 979C669.7 981.9 668.4 985.5 668 988.1C667.6 990.8 668 993.1 669.2 994.8C670.3 996.5 672.9 998.2 675 998.5C677.1 998.7 680.1 997.8 681.7 996.5C683.3 995.2 684.1 992.6 684.7 990.6C685.2 988.7 684.4 986.6 685 984.8C685.6 983 686.1 981.9 688.3 979.8C690.6 977.7 694.3 975.5 698.3 972.3C702.4 969.1 710.1 962.6 712.5 960.6L700.8 952.3Z"/>
<path class="k" d="M670 945.6C670.6 944.7 673.1 942.4 675 941.5C676.9 940.5 679.4 940 681.7 940.1C683.9 940.3 686.9 941.5 688.3 942.3C689.7 943.1 690.8 944 690 944.8C689.2 945.6 685.6 946.6 683.3 947.3C681.1 948 678.6 949 676.7 949C674.7 949 672.8 947.9 671.7 947.3C670.6 946.7 669.4 946.6 670 945.6Z"/>
<path class="l" d="M674.7 998.1L674.7 1042.8"/>
<path class="wm" d="M625 891.5L639.2 901.5C638.9 902.3 637.4 904.8 637.5 906.5C637.6 908.1 638.2 909.7 640 911.5C641.8 913.3 645.4 915.7 648.3 917.3C651.2 918.9 654.2 920.9 657.5 921.1C660.8 921.4 666.5 919.3 668.3 919L712 899.1L714.2 899.5L809.2 981.5L809.7 984L793.3 1005.1C787.8 1002.3 769.2 992.9 760 988.1C750.8 983.4 746.4 981.2 738.3 976.5C730.3 971.7 717.8 963.8 711.7 959.8C705.6 955.8 705.6 955.2 701.7 952.3C697.8 949.4 691.4 944.2 688.3 942.3C685.3 940.4 685.3 940.6 683.3 940.6C681.4 940.6 679.2 941.3 676.7 942.3C674.2 943.3 671.7 945.1 668.3 946.5C665 947.9 659.7 949.9 656.7 950.6C653.6 951.3 652.5 951.3 650 950.6C647.5 949.9 645.3 948.8 641.7 946.5C638.1 944.1 632.5 939.8 628.3 936.5C624.2 933.1 619.3 929.2 616.7 926.5C614 923.7 613.2 922.3 612.5 919.8C611.8 917.3 611.8 914.8 612.5 911.5C613.2 908.1 615.4 902.7 616.7 899.8C617.9 896.9 618.6 895.4 620 894C621.4 892.6 624.2 891.9 625 891.5Z"/>
<path class="k" d="M623.3 890.6C623.5 888.5 623.1 882.2 624.2 878.1C625.3 874.1 626.8 871.2 630 866.5C633.2 861.7 637.5 857.4 643.3 849.8C649.2 842.2 660.8 825.8 665 820.6C669.2 815.5 667.4 819 668.3 819C669.3 819 670.8 819.4 670.8 820.6C670.8 821.9 671.5 821.9 668.3 826.5C665.1 831 656.7 841.5 651.7 848.1C646.7 854.8 641.8 861.2 638.3 866.5C634.9 871.7 632.8 875.7 630.8 879.8C628.8 883.9 627.1 889.2 626.3 891.1L623.3 890.6Z"/>
<path class="wm" d="M625 891.5L673.3 821.5C673.8 821.1 674.6 819.9 675.8 819.5C677.1 819 679.2 818.6 680.8 819C682.5 819.3 684.4 820.2 685.8 821.5C687.2 822.7 688.8 824.8 689.2 826.5C689.5 828.1 688.2 830.6 688 831.5L639.2 901.5L625 891.5Z"/>
<path class="k" d="M623 890.6C623.1 888.5 622.6 882.2 623.7 878.1C624.7 874.1 626.2 871.2 629.2 866.5C632.2 861.7 635.8 857.4 641.7 849.8C647.5 842.2 659.9 825.8 664.2 820.6C668.5 815.4 666.5 818.6 667.5 818.6C668.5 818.6 670.2 819.5 670.3 820.6C670.5 821.8 671.4 821.3 668.3 825.6C665.2 829.9 656.7 840 651.7 846.5C646.7 852.9 641.8 859.5 638.3 864.5C634.9 869.5 632.9 872.2 630.8 876.5C628.8 880.7 626.7 887.6 625.8 889.8L623 890.6Z"/>
<path class="t" d="M628.3 884.8C630 882 634.4 874 638.3 868.1C642.2 862.3 646.3 856.7 651.7 849.8C657 842.9 667.2 830.4 670.3 826.5" style="stroke:#fff;stroke-width:0.8"/>
</g>
<path class="k" d="M565 894.8C565.8 892 568.1 883.4 570 878.1C571.9 872.9 574.2 868 576.7 863.1C579.2 858.3 582.9 852.2 585 849C587.1 845.7 588.5 844.4 589.2 843.5L584.2 839.8L603.8 832.3L600 851.8L594.7 848.5C594 849.2 592.7 850.3 590.8 853.1C588.9 856 585.7 861.2 583.3 865.6C581 870.1 578.6 874.7 576.7 879.8C574.7 884.9 572.5 893.4 571.7 896.1L565 894.8Z"/>
<path class="g" d="M616.2 816.1L652.5 836.8"/>
<path class="k" d="M698.7 999.3L713.7 999.0L712.5 1003.1L732.0 1012.3L729.7 1017.8L709.7 1008.5L708.0 1011.5Z"/>
<circle class="k" cx="570.0" cy="925.0" r="13.0"/>
<circle class="k" cx="759.7" cy="1026.5" r="13.0"/>

<!-- 34.svg -->
<clipPath id="c34"><rect x="868" y="768" width="260" height="290.70000000000005"/></clipPath>
<g clip-path="url(#c34)">
<path class="l" d="M1023.3 912L1151.6 852.8"/>
<path class="l" d="M950.5 960.8C949.2 963.3 944.5 972 943 975.7C941.4 979.3 940.8 980.5 941 982.7C941.1 984.8 941.9 986.3 944 988.7C946 991.1 949.3 993.8 953.3 997C957.3 1000.2 965.4 1006.3 967.8 1008.2L1071 1074.8"/>
<path class="l" d="M952 963.3C951.9 964.1 951 965.9 951.5 967.8C952 969.7 951.9 971.7 955 974.7C958 977.6 967.3 983.8 969.8 985.7"/>
<path class="l" d="M948.5 967.3C949 968.6 948.6 971.5 952 974.7C955.4 977.8 966 984.2 968.8 986.2"/>
<path class="l" d="M985 996.8L1047 1036.5"/>
<path class="l" d="M1054.6 1010.3L1143.3 1080.4"/>
<path class="l" d="M1078.6 988.7L1151.6 1030.5"/>
<path class="l" d="M1076.6 981.7L1151.6 1010.6"/>
<path class="t" d="M966.6 1008.7C966.9 1011.2 967.2 1018.1 968.3 1023.7C969.4 1029.2 972 1037.8 973 1042C973.9 1046.2 973.8 1044.8 974.1 1048.7C974.5 1052.6 974.8 1062.6 975 1065.3"/>
<path class="t" d="M973.8 1019.5L976 1065.3"/>
<path class="t" d="M985.3 1024.5L987.6 1065.3"/>
<path class="l" d="M1138 896.5L1086.5 917.2C1086.1 917.5 1084.7 918.3 1084.3 918.9C1084 919.5 1083.8 920 1084.2 920.7C1084.6 921.4 1084.6 922 1086.5 923.2C1088.4 924.3 1091.7 925.9 1095.6 927.4C1099.5 928.9 1104.7 930.8 1109.7 932C1114.8 933.2 1121.3 934 1126 934.7C1130.7 935.3 1136 935.7 1138 935.9"/>
<path class="l" d="M1138 940.8C1136 940.4 1130.7 939.4 1126 938.5C1121.3 937.5 1114.8 936.5 1109.7 935.3C1104.7 934.1 1100.2 932.9 1095.6 931.4C1091.1 929.9 1084.8 927.1 1082.6 926.2A2.18 2.18 0 0 0 1080.6 930.1C1083.1 931.1 1090.8 934.5 1095.6 936.2C1100.5 937.9 1104.7 938.9 1109.7 940.1C1114.8 941.3 1121.3 942.4 1126 943.4C1130.7 944.4 1136 945.4 1138 945.9"/>
<path class="l" d="M1138 948.4C1136 948 1130.7 947 1126 946.1C1121.3 945.2 1114.8 944.1 1109.7 942.9C1104.7 941.7 1101 941 1095.6 939C1090.3 937.1 1080.6 932.6 1077.6 931.3A2.37 2.37 0 0 0 1075.5 935.5C1078.9 936.9 1089.9 941.9 1095.6 944C1101.3 946 1104.7 946.7 1109.7 947.9C1114.8 949.1 1121.3 950.2 1126 951.2C1130.7 952.1 1136 953.2 1138 953.6"/>
<path class="l" d="M1138 956.5C1136 956.2 1130.7 955.1 1126 954.2C1121.3 953.3 1114.8 952.2 1109.7 951C1104.7 949.8 1101.7 949.1 1095.6 946.9C1089.6 944.8 1077.1 939.6 1073.4 938.2A2.27 2.27 0 0 0 1071.3 942.2C1075.3 943.9 1089.2 949.8 1095.6 952.1C1102 954.4 1104.7 954.7 1109.7 956C1114.8 957.2 1121.3 958.5 1126 959.5C1130.7 960.5 1136 961.7 1138 962.1"/>
<path class="l" d="M1069.2 945.2C1071.9 946.2 1078.3 949.8 1082.9 951.7C1087.6 953.6 1094.3 955.5 1097 956.5C1099.8 957.6 1098.9 957.4 1099.3 958.1C1099.6 958.8 1099.6 959.9 1099.2 960.6C1098.7 961.2 1097.6 961.6 1096.7 961.7C1095.7 961.9 1096.3 962.5 1093.5 961.6C1090.7 960.7 1084.5 958.2 1080.1 956.3C1075.8 954.4 1069.8 951.7 1067.4 950.3C1065 948.9 1066 948.6 1065.9 947.9C1065.7 947.1 1066.2 946.2 1066.7 945.7C1067.3 945.3 1066.5 944.2 1069.2 945.2Z"/>
<path class="l" d="M1138 965.1C1136 964.7 1129.7 963.4 1126 962.7C1122.2 961.9 1118.7 961.3 1115.4 960.6C1112 959.8 1107.4 958.8 1105.9 958.4A3.01 3.01 0 0 0 1104.4 964.3C1106.3 964.7 1111.8 965.8 1115.4 966.5C1119 967.3 1122.2 967.9 1126 968.7C1129.7 969.4 1136 970.7 1138 971.1"/>
<path class="l" d="M1138 974.2C1136 973.8 1129.7 972.6 1126 971.8C1122.2 971.1 1118.9 970.5 1115.4 969.7C1111.9 969 1106.6 967.8 1104.8 967.4A3.11 3.11 0 0 0 1102.7 973.2C1104.8 973.7 1111.5 975 1115.4 975.7C1119.3 976.5 1122.2 977.1 1126 977.8C1129.7 978.6 1136 979.8 1138 980.2"/>
<path class="l" d="M1138 985.4C1135.9 984.9 1130.2 983.7 1125.8 982.8C1121.5 981.9 1116.4 981 1111.9 980C1107.3 978.9 1100.6 977.2 1098.3 976.6A3.75 3.75 0 0 0 1095.8 983.7C1098.4 984.3 1106.8 986.3 1111.9 987.4C1116.9 988.5 1121.5 989.4 1125.8 990.3C1130.2 991.2 1135.9 992.5 1138 992.9"/>
<path class="l" d="M1082.2 960.6C1083.9 960.8 1088.4 962.5 1090 963.4C1091.6 964.2 1091.8 964.6 1092 965.5C1092.1 966.4 1091.6 968 1091 968.7C1090.5 969.4 1090.3 970.1 1088.6 969.7C1086.8 969.4 1082.1 967.4 1080.5 966.5C1078.8 965.7 1078.8 965.3 1078.7 964.4C1078.6 963.6 1079.2 962.3 1079.8 961.6C1080.3 961 1080.5 960.3 1082.2 960.6Z"/>
<ellipse class="l" cx="1087.3" cy="975.7" rx="3.9" ry="3.4" transform="rotate(-20 1087.3 975.7)"/>
<path class="l" d="M1056.6 902C1057.4 903.2 1060.3 906.9 1061.3 909.5C1062.3 912.1 1062.7 915.2 1062.6 917.8C1062.5 920.5 1061.1 924.1 1060.8 925.3"/>
<path class="l" d="M1063.3 894.5C1064.3 895.5 1067.5 897.7 1069.1 900.3C1070.7 903 1072.4 907 1073 910.3C1073.5 913.7 1073.5 916.7 1072.5 920.3C1071.4 923.9 1069.5 928.6 1066.6 932C1063.7 935.4 1058.9 938.3 1055 940.7C1051.1 943.1 1046.6 945.4 1043.3 946.3C1040 947.2 1037.6 946.9 1035 946.2C1032.3 945.4 1028.7 942.7 1027.5 942"/>
<path class="l" d="M1050 928.7C1051.1 928.9 1055.2 929.5 1056.6 930.3C1058 931.2 1059.1 932.6 1058.3 933.7C1057.5 934.8 1054.4 936.3 1051.6 937C1048.9 937.7 1043.3 937.7 1041.6 937.8"/>
<path class="l" d="M1014.1 947.8L1025 952.8"/>
<ellipse class="w" cx="980.8" cy="986.5" rx="11.3" ry="19.2" transform="rotate(16 980.8 986.5)"/>
<path class="w" d="M1042.1 954.1C1043.8 954.1 1048.8 953.6 1052.1 953.9C1055.4 954.3 1059.1 955.1 1062 956.4C1065 957.8 1067.9 959.7 1070 961.9C1072.2 964.2 1073.8 967.1 1075 969.9C1076.2 972.7 1076.8 975.9 1077 978.9C1077.2 981.8 1076.8 985 1076 987.8C1075.2 990.6 1074 993.5 1072 995.8C1070 998.1 1067.4 999.9 1064 1001.8C1060.7 1003.7 1056.1 1005.7 1052.1 1007.3C1048.1 1008.8 1043.8 1010.2 1040.1 1011.2C1036.5 1012.3 1031.8 1013.1 1030.2 1013.4C1029.5 1013.7 1027.8 1014.8 1026.2 1015.2C1024.5 1015.6 1022.3 1016 1020.2 1015.7C1018 1015.5 1015.2 1015.1 1013.2 1013.7C1011.2 1012.4 1009.3 1010.1 1008.2 1007.7C1007.2 1005.4 1006.7 1002.4 1006.7 999.8C1006.7 997.1 1007.3 994.2 1008.2 991.8C1009.1 989.4 1011.6 986.4 1012.2 985.3"/>
<path class="l" d="M1007.7 969.4L1000.8 974.9C1000.8 976.2 1000.7 979.7 1001.3 982.8C1001.8 986 1003.3 991 1004.2 993.8C1005.2 996.6 1006.3 998.8 1006.7 999.8"/>
<path class="l" d="M1065.5 975.9C1066.4 976.7 1069.7 978.9 1071 980.8C1072.3 982.8 1073.2 985.5 1073.5 987.8C1073.8 990.1 1073.1 993.6 1073 994.8"/>
<path class="l" d="M1013.7 989.8C1014.5 990.8 1015.8 993.9 1018.2 995.8C1020.6 997.7 1024.8 1000.1 1028.2 1001.3C1031.5 1002.4 1034.8 1002.6 1038.1 1002.6C1041.4 1002.6 1044.8 1002.2 1048.1 1001.3C1051.4 1000.3 1055.7 998.4 1058.1 996.8C1060.4 995.2 1061.3 993.3 1062 991.8C1062.8 990.3 1062.5 988.5 1062.5 987.8"/>
<path class="l" d="M1014.4 994.3C1015.5 995.2 1018.6 998.2 1021.2 999.8C1023.7 1001.4 1028.2 1003.1 1029.7 1003.8C1031.4 1004 1036.4 1005.1 1040.1 1005C1043.9 1004.8 1048.4 1004.2 1052.1 1003C1055.7 1001.8 1059.9 999.6 1062 997.8C1064.2 995.9 1064.5 993.5 1064.8 991.8C1065.2 990.1 1064.2 988.5 1064 987.8"/>
<path class="l" d="M1013.2 986.8L1013.2 1012.7"/>
<path class="l" d="M1029.7 1003.8L1030.2 1013.4"/>
<path class="w" d="M1012.2 964.9C1012.4 964.6 1012.2 964.3 1013.2 963.4C1014.2 962.5 1016.2 960.6 1018.2 959.4C1020.2 958.3 1022.7 957.2 1025.2 956.4C1027.7 955.7 1030.3 955.3 1033.1 954.9C1036 954.6 1039.3 954.4 1042.1 954.4C1044.9 954.5 1047.4 954.8 1050.1 955.4C1052.7 956.1 1055.9 957.3 1058.1 958.4C1060.2 959.6 1061.9 961.2 1063 962.4C1064.2 963.6 1064.7 964.9 1065 965.4L1065 985.3L1063 986.3L1056.1 992.8L1044.1 995.3L1028.7 994.8L1018.7 991.8L1012 984.8L1012.2 964.9Z"/>
<path class="l" d="M1012.2 969.9L1019.2 977.1L1029.2 979.8L1044.1 980.3L1056.1 977.9L1063 971.4L1065 965.9"/>
<path class="l" d="M1013.2 970.4L1013.7 985.8M1018.7 977.1L1018.7 991.8M1019.5 977.3L1019.5 992M1028.7 979.8L1028.7 994.8M1029.8 979.9L1029.8 995M1044.1 980.3L1044.1 995.3M1045.2 980.2L1045.2 995.1M1056.1 977.9L1056.3 992.8M1062.2 971.9L1062.2 986.8M1063 971.4L1063.2 986.3"/>
<ellipse class="wm" cx="1038.4" cy="965.7" rx="18.1" ry="9.3"/>
<path class="m" d="M1022.2 961.4C1023.2 960.7 1025.5 958.3 1028.2 957.4C1030.9 956.5 1034.9 955.9 1038.4 955.9C1041.9 955.9 1046.4 956.5 1049.1 957.4C1051.8 958.3 1053.7 960.7 1054.6 961.4"/>
<path class="k" d="M970.9 969.7C971.1 973.4 971.7 987 972.3 991.7C973 996.3 973.6 996.2 974.8 997.6C976.1 999.1 979 999.7 979.8 1000.1C980.5 999.6 982.5 998.1 983.8 996.6C985.1 995.2 987.1 992.5 987.8 991.7L987.8 972.7L970.9 969.7Z" style="fill:#fff"/>
<path class="h" d="M971 969.7C971.2 971.6 971.6 977 971.8 980.7C972.1 984.4 972.2 989.1 972.5 991.7C972.9 994.2 973.2 995 973.8 996.1C974.5 997.3 975.3 998 976.3 998.6C977.4 999.3 979.7 999.6 980.3 999.8" style="stroke-width:3.6"/>
<path class="h" d="M987 972.7L987 991.9" style="stroke-width:3.8"/>
<path class="l" d="M980.3 999.8C980.9 999.3 982.6 998 983.8 996.6C985 995.3 986.7 992.7 987.3 991.9"/>
<path class="wh" d="M950.1 937C950.7 936.3 951 935.3 953 935C955 934.7 958.9 935 962.1 935.2C965.3 935.4 970 935.5 972.1 936C974.3 936.6 974.2 937.2 975.1 938.4C976.1 939.5 976.8 941.5 978 942.9C979.1 944.3 980.5 945.5 982.1 946.7C983.8 947.9 986.6 948.9 988 950C989.3 951.2 989.7 952 990.1 953.7C990.5 955.4 989.9 958.8 990.5 960.4C991.1 962 993 962.3 993.8 963.4C994.6 964.4 995.3 965.6 995.1 966.7C995 967.8 994.2 969.2 993 970C991.8 970.9 989.8 971.5 988 971.7C986.2 971.9 984.1 971.6 982.1 971.2C980.2 970.8 978.4 970 976.3 969.2C974.2 968.5 972 968 969.6 966.7C967.3 965.5 964.5 963.4 962.1 961.7C959.8 960 957.4 958.5 955.5 956.7C953.6 955 951.8 953.1 950.8 951.2C949.8 949.3 949.9 947.3 949.6 945.4C949.4 943.4 949.4 940.9 949.5 939.5C949.6 938.1 949.5 937.8 950.1 937Z"/>
<path class="t" d="M952.5 939.5C953.2 940.6 954.7 944 957.1 946.2C959.6 948.4 963.8 951.1 967.1 952.9C970.5 954.7 974.4 956.3 977.1 957C979.9 957.8 981.9 957.9 983.8 957.5C985.7 957.2 987.7 955.5 988.5 955"/>
<path class="t" d="M980.5 968.4C981.6 968.4 985.2 968.7 987.1 968.4C989.1 968 991.3 966.6 992.1 966.2"/>
<path class="t" d="M955.8 948.4L956.3 954M959.6 950.7L960 957.9M963.5 952.9L963.8 960.4"/>
</g>
<path class="k" d="M950.8 913.7C955.1 913.2 968.2 910.9 976.7 910.8C985.1 910.8 993.3 911.5 1001.7 913.2C1010 914.8 1018.6 917.9 1026.7 920.7C1034.7 923.4 1046.1 928.2 1050 929.7L1036 935.7C1033.6 934.5 1027.4 930.8 1021.7 928.7C1015.9 926.6 1009.2 924.5 1001.7 923C994.2 921.5 984.2 919.9 976.7 919.7C969.2 919.4 960 921.3 956.7 921.7L958.3 924L934.5 921.7L948.3 909.5L950.8 913.7Z"/>
<path class="l" d="M937.5 924L979.2 952.8" style="stroke-dasharray:8 2 2 2;stroke-width:1.1;stroke-linecap:butt"/>
<path class="l" d="M979.2 952.8L1035 934" style="stroke-dasharray:8 2 2 2;stroke-width:1.1;stroke-linecap:butt"/>
<path class="l" d="M910.8 947.5L949.2 947.5"/>
<path class="l" d="M977.5 904.2L978.3 951.7" style="stroke-dasharray:8 2 2 2;stroke-width:1.1;stroke-linecap:butt"/>
<path class="k" d="M975.8 840.3L990.8 860.0L984.2 862.5L985.0 899.7L970.0 904.7L968.7 867.5L961.7 869.7Z"/>
<circle class="k" cx="936.3" cy="854.2" r="13.0"/>

</svg>
</body></html>
